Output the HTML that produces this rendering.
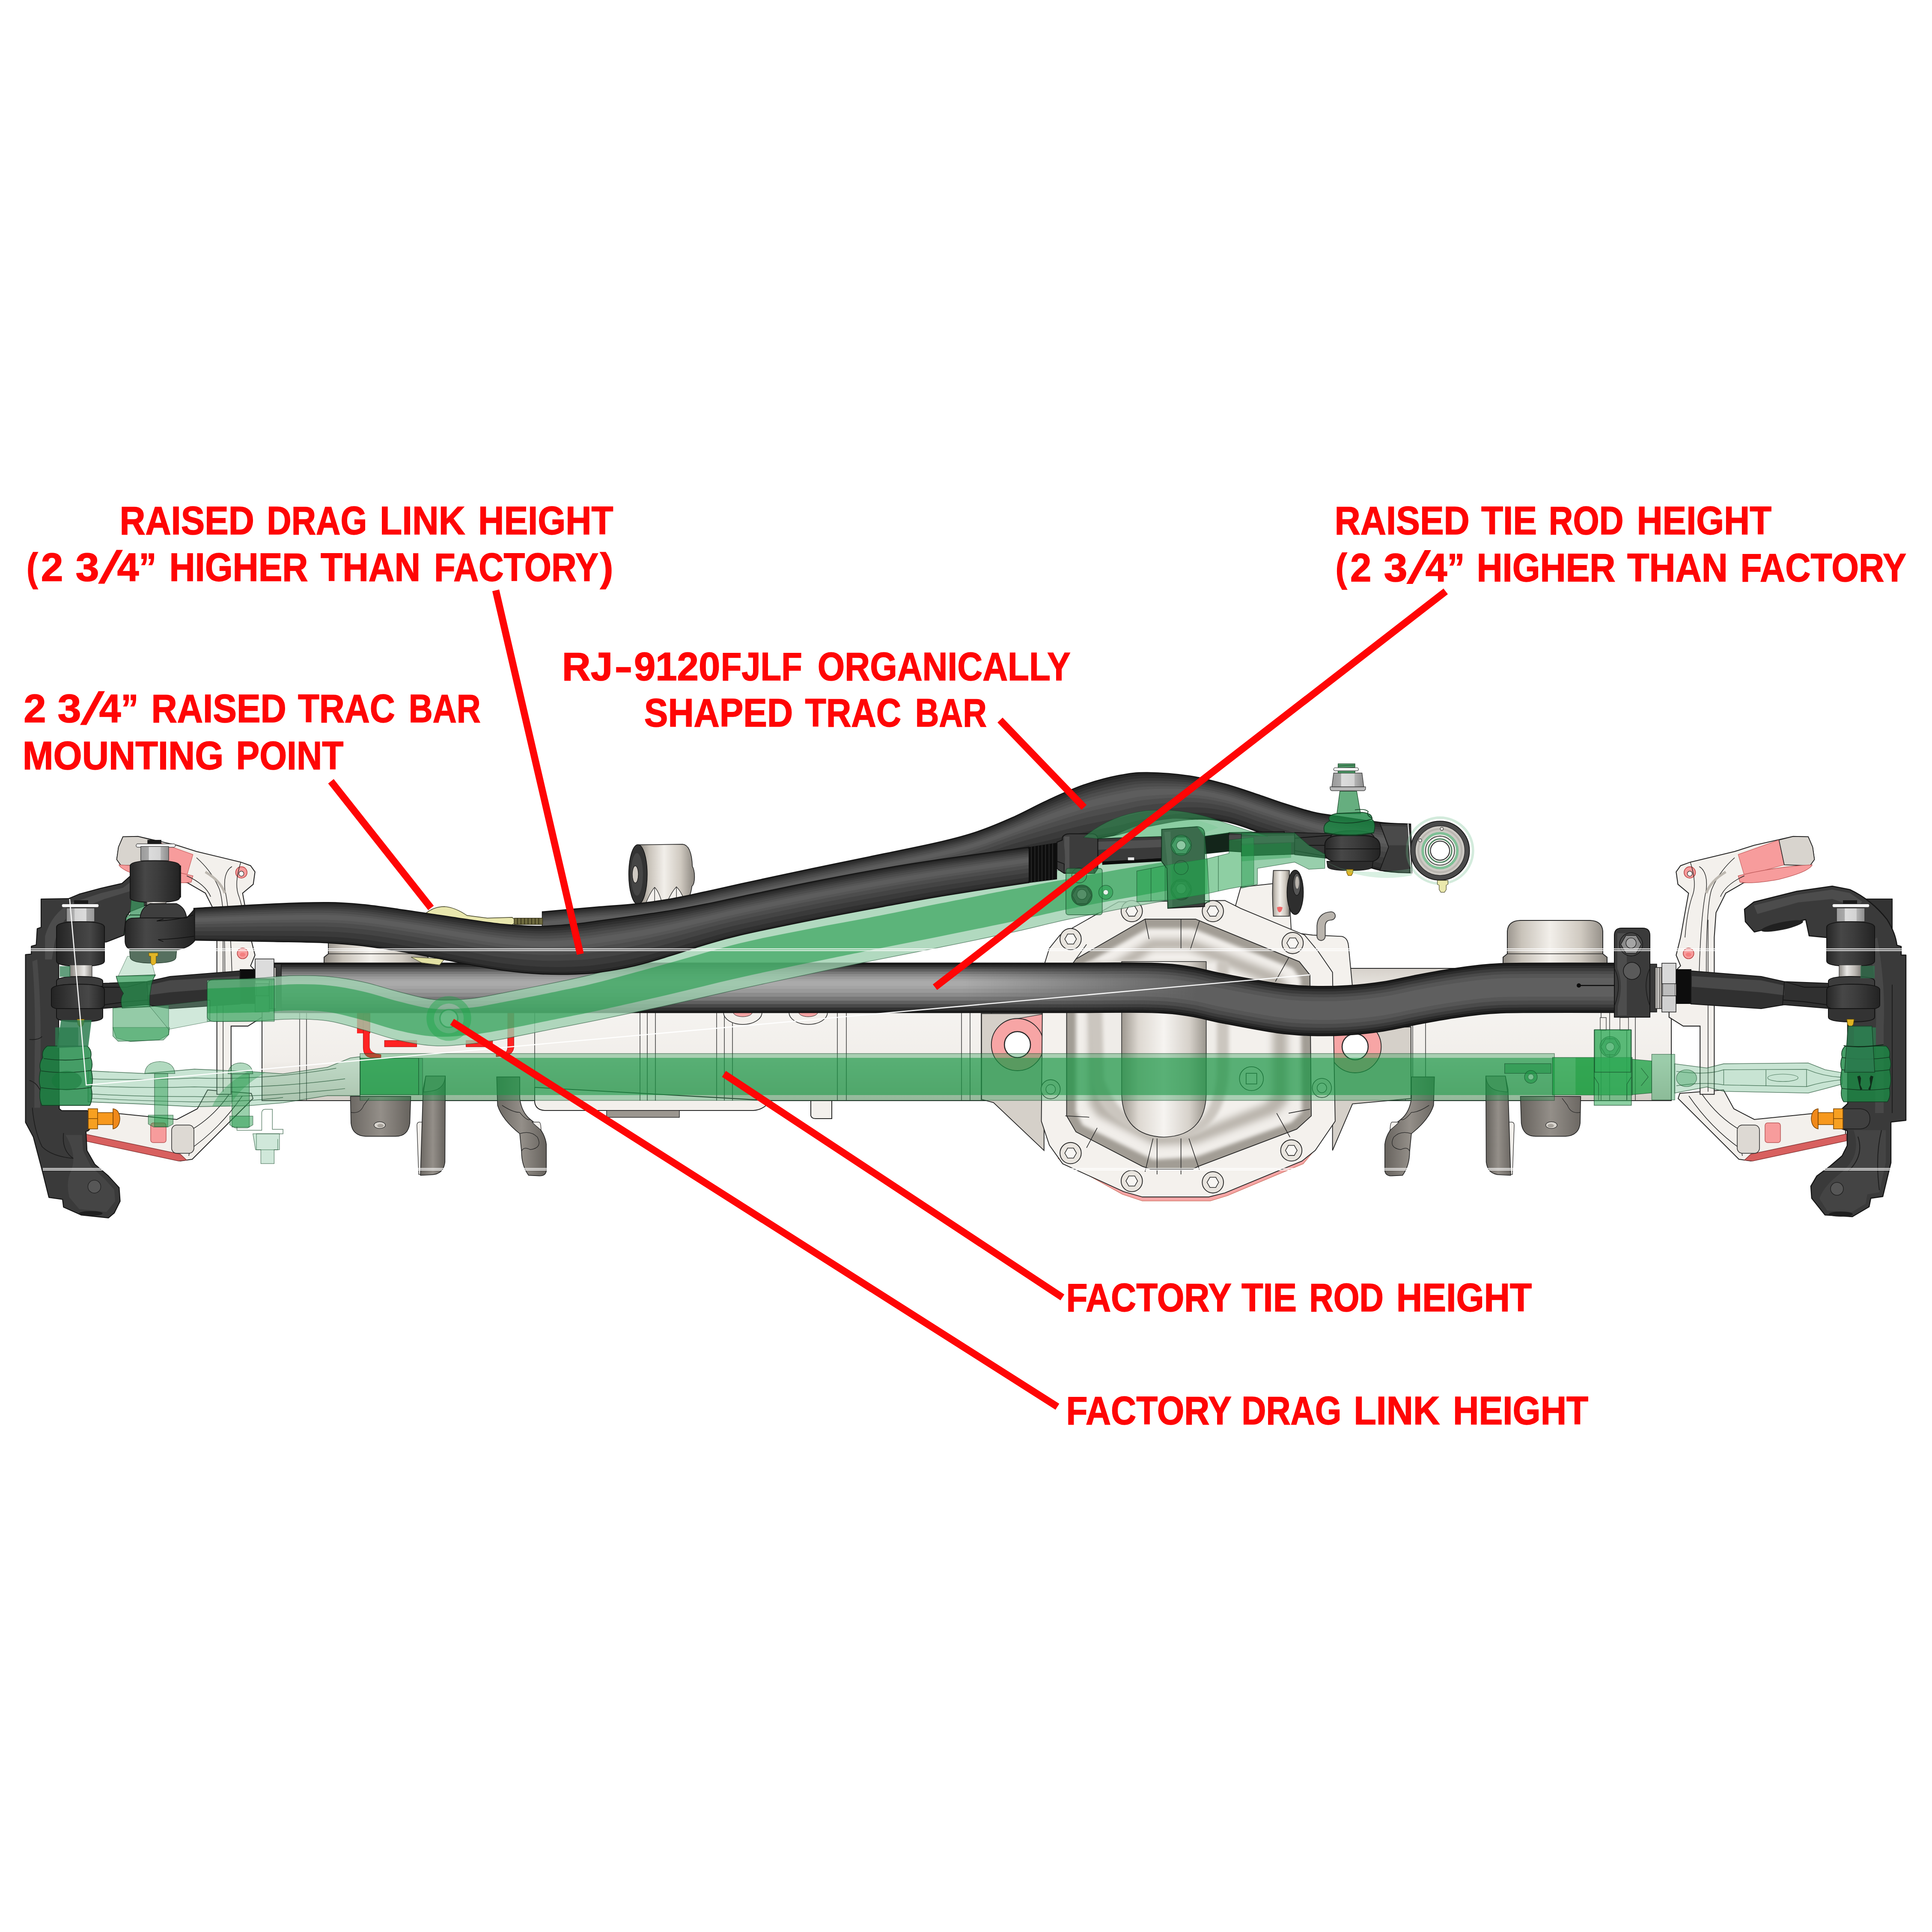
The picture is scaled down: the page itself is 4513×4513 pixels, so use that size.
<!DOCTYPE html>
<html><head><meta charset="utf-8"><title>Steering geometry</title>
<style>
html,body{margin:0;padding:0;background:#fff;}
body{width:4513px;height:4513px;overflow:hidden;font-family:"Liberation Sans",sans-serif;}
svg{display:block;position:absolute;left:0;top:0;}
.lbl text{font-family:"Liberation Sans",sans-serif;font-weight:700;font-size:93px;fill:#ff0505;stroke:#ff0505;stroke-width:1.5px;}
.rl{stroke:#ff0505;stroke-width:16.6;stroke-linecap:butt;fill:none;}
</style></head><body>
<svg width="4513" height="4513" viewBox="0 0 4513 4513">
<rect width="4513" height="4513" fill="#ffffff"/>
<g id="axle">
<defs>
<linearGradient id="cupg" x1="0" x2="1" y1="0" y2="0"><stop offset="0" stop-color="#8e8982"/><stop offset=".18" stop-color="#c9c3ba"/><stop offset=".45" stop-color="#f2efea"/><stop offset=".75" stop-color="#cfc9c0"/><stop offset="1" stop-color="#8a857e"/></linearGradient>
<linearGradient id="tubeg" x1="0" x2="0" y1="0" y2="1"><stop offset="0" stop-color="#d6d1ca"/><stop offset=".25" stop-color="#f6f4f1"/><stop offset=".7" stop-color="#f1eeea"/><stop offset="1" stop-color="#d2cdc6"/></linearGradient>
<linearGradient id="grayg" x1="0" x2="1" y1="0" y2="0"><stop offset="0" stop-color="#6c6863"/><stop offset=".5" stop-color="#948f89"/><stop offset="1" stop-color="#66625d"/></linearGradient>
<radialGradient id="domeg" cx=".5" cy=".45" r=".6"><stop offset="0" stop-color="#f7f5f2"/><stop offset=".6" stop-color="#e4e0da"/><stop offset="1" stop-color="#a9a49c"/></radialGradient>
<linearGradient id="domeh" x1="0" x2="1" y1="0" y2="0"><stop offset="0" stop-color="#9d978f"/><stop offset=".2" stop-color="#ddd8d1"/><stop offset=".5" stop-color="#f6f4f1"/><stop offset=".8" stop-color="#d6d1ca"/><stop offset="1" stop-color="#9a958d"/></linearGradient>
</defs>
<path d="M757,2262 L757,2236 L767,2228 L767,2175 Q769,2151 797,2150 L960,2150 Q988,2151 990,2175 L990,2228 L1000,2236 L1000,2262 Z" fill="url(#cupg)" stroke="#262626" stroke-width="2"/>
<path d="M767,2228 L990,2228" stroke="#262626" stroke-width="1.5" fill="none"/>
<path d="M3511,2262 L3511,2236 L3521,2228 L3521,2175 Q3523,2151 3551,2150 L3714,2150 Q3742,2151 3744,2175 L3744,2228 L3754,2236 L3754,2262 Z" fill="url(#cupg)" stroke="#262626" stroke-width="2"/>
<path d="M3521,2228 L3744,2228" stroke="#262626" stroke-width="1.5" fill="none"/>
<rect x="612" y="2262" width="3292" height="309" fill="url(#tubeg)" stroke="#262626" stroke-width="2"/>
<path d="M1249,2540 L1249,2575 Q1252,2594 1275,2594 L1760,2594 Q1785,2592 1800,2571 Z" fill="#f3f0ec" stroke="#262626" stroke-width="2"/>
<rect x="1417" y="2594" width="170" height="16" fill="#9b968f" stroke="#262626" stroke-width="1.5"/>
<path d="M1894,2571 L1894,2606 Q1896,2613 1905,2613 L1943,2613 L1943,2571 Z" fill="#f3f0ec" stroke="#262626" stroke-width="2"/>
<path d="M700,2365 L700,2571" stroke="#3a3a3a" stroke-width="1.5" fill="none"/>
<path d="M716,2365 L716,2571" stroke="#3a3a3a" stroke-width="1.5" fill="none"/>
<path d="M1249,2365 L1249,2571" stroke="#3a3a3a" stroke-width="1.5" fill="none"/>
<path d="M1495,2365 L1495,2571" stroke="#3a3a3a" stroke-width="1.5" fill="none"/>
<path d="M1512,2365 L1512,2571" stroke="#3a3a3a" stroke-width="1.5" fill="none"/>
<path d="M1531,2365 L1531,2571" stroke="#3a3a3a" stroke-width="1.5" fill="none"/>
<path d="M1674,2365 L1674,2571" stroke="#3a3a3a" stroke-width="1.5" fill="none"/>
<path d="M1692,2365 L1692,2571" stroke="#3a3a3a" stroke-width="1.5" fill="none"/>
<path d="M1711,2365 L1711,2571" stroke="#3a3a3a" stroke-width="1.5" fill="none"/>
<path d="M1956,2365 L1956,2571" stroke="#3a3a3a" stroke-width="1.5" fill="none"/>
<path d="M1977,2365 L1977,2571" stroke="#3a3a3a" stroke-width="1.5" fill="none"/>
<path d="M2246,2365 L2246,2571" stroke="#3a3a3a" stroke-width="1.5" fill="none"/>
<path d="M2266,2365 L2266,2571" stroke="#3a3a3a" stroke-width="1.5" fill="none"/>
<path d="M2292,2365 L2292,2571" stroke="#3a3a3a" stroke-width="1.5" fill="none"/>
<path d="M2316,2365 L2316,2571" stroke="#3a3a3a" stroke-width="1.5" fill="none"/>
<path d="M3283,2365 L3283,2571" stroke="#3a3a3a" stroke-width="1.5" fill="none"/>
<path d="M3300,2365 L3300,2571" stroke="#3a3a3a" stroke-width="1.5" fill="none"/>
<path d="M3330,2365 L3330,2571" stroke="#3a3a3a" stroke-width="1.5" fill="none"/>
<path d="M3740,2365 L3740,2571" stroke="#3a3a3a" stroke-width="1.5" fill="none"/>
<path d="M3760,2365 L3760,2571" stroke="#3a3a3a" stroke-width="1.5" fill="none"/>
<path d="M3800,2365 L3800,2571" stroke="#3a3a3a" stroke-width="1.5" fill="none"/>
<path d="M3820,2365 L3820,2571" stroke="#3a3a3a" stroke-width="1.5" fill="none"/>
<path d="M1690,2365 A45,28 0 0 0 1780,2365 Z" fill="#f3f0ec" stroke="#262626" stroke-width="1.5"/><path d="M1713,2365 A22,10 0 0 0 1757,2365 Z" fill="#f5a3a3" stroke="#262626" stroke-width="1"/>
<path d="M1843,2365 A45,28 0 0 0 1933,2365 Z" fill="#f3f0ec" stroke="#262626" stroke-width="1.5"/><path d="M1866,2365 A22,10 0 0 0 1910,2365 Z" fill="#f5a3a3" stroke="#262626" stroke-width="1"/>
</g>
<g id="diff">
<g transform="translate(2240,2060) scale(0.62112)">
<defs><filter id="bl8" x="-10%" y="-10%" width="120%" height="120%"><feGaussianBlur stdDeviation="14"/></filter>
<filter id="bl4" x="-10%" y="-10%" width="120%" height="120%"><feGaussianBlur stdDeviation="7"/></filter>
<clipPath id="domeclip"><path d="M700,140 L890,140 L1280,300 L1320,350 L1325,880 L1270,930 L900,1070 L880,1080 L720,1080 L690,1070 L440,940 L405,880 L405,340 L440,290 Z"/></clipPath></defs>
<path d="M85,495 L320,495 L320,1010 L130,830 L85,818 Z" fill="#d5d0c9" stroke="#262626" stroke-width="3"/>
<path d="M1405,560 L1700,545 L1700,815 L1480,835 L1405,1010 Z" fill="#d5d0c9" stroke="#262626" stroke-width="3"/>
<path d="M1040,90 L1060,20 L1240,0 L1250,190 L1330,200 L1440,205 Q1462,210 1465,240 L1480,395 L1400,400 L1320,260 Z" fill="#f4f1ed" stroke="#262626" stroke-width="3"/>
<path d="M1362,205 L1362,165 Q1364,130 1400,128" fill="none" stroke="#3a3a3a" stroke-width="34" stroke-linecap="round"/><path d="M1362,205 L1362,165 Q1364,130 1400,128" fill="none" stroke="#b9b4ad" stroke-width="28" stroke-linecap="round"/>
<path d="M215,515 L318,497 L318,640 L300,660 L215,650 Z" fill="#f7a5a5" stroke="#262626" stroke-width="2"/>
<path d="M1408,570 L1500,560 L1500,660 L1408,668 Z" fill="#f7a5a5" stroke="#262626" stroke-width="2"/>
<circle cx="220" cy="612" r="98" fill="#f7a5a5" stroke="#262626" stroke-width="3"/><circle cx="220" cy="612" r="49" fill="#fff" stroke="#262626" stroke-width="4"/>
<circle cx="1490" cy="620" r="98" fill="#f7a5a5" stroke="#262626" stroke-width="3"/><circle cx="1490" cy="620" r="49" fill="#fff" stroke="#262626" stroke-width="4"/>
<path d="M372,1040 L615,1175 L690,1200 L945,1200 L1010,1180 L1295,1060 L1345,1000 L1300,1030 L1000,1150 L690,1165 L420,1050 Z" fill="#f7a5a5" stroke="#c76" stroke-width="2"/>
<path d="M600,75 L1000,70 L1060,100 L1300,200 L1350,260 L1405,340 L1415,900 L1340,1010 L1290,1050 L1000,1170 L940,1185 L690,1185 L620,1165 L390,1060 L340,990 L310,900 L315,330 L340,250 L380,200 Z" fill="#f4f1ed" stroke="#262626" stroke-width="3"/>
<path d="M700,140 L890,140 L1280,300 L1320,350 L1325,880 L1270,930 L900,1070 L880,1080 L720,1080 L690,1070 L440,940 L405,880 L405,340 L440,290 Z" fill="#a29d95" stroke="#262626" stroke-width="3"/>
<g clip-path="url(#domeclip)"><path d="M710,175 L880,175 L1255,325 L1285,365 L1290,865 L1250,905 L890,1035 L730,1045 L465,915 L440,865 L440,355 L465,315 Z" fill="#f1eeea" filter="url(#bl4)"/>
<path d="M720,215 L870,215 L1200,345 L1235,385 L1235,830 L1195,870 L890,985 L740,990 L520,880 L490,835 L490,385 L520,345 Z" fill="#b9b4ac" filter="url(#bl8)"/>
<path d="M730,255 L860,255 L1150,375 L1180,410 L1180,800 L1150,835 L890,940 L750,945 L565,850 L540,810 L540,410 L565,375 Z" fill="#f3f0ec" filter="url(#bl8)"/></g>
<path d="M480,300 L1015,300 L1015,700 Q1010,900 870,960 L750,965 Q560,930 500,760 Z" fill="#cbc6bf" filter="url(#bl4)"/>
<path d="M535,300 L970,300 L970,720 Q960,880 860,930 L760,935 Q600,900 545,740 Z" fill="#efece8" filter="url(#bl4)"/>
<path d="M612,300 L930,300 L930,800 Q925,955 771,960 Q617,955 612,800 Z" fill="url(#domeh)" stroke="#262626" stroke-width="2.5"/>
<circle cx="650" cy="110" r="40" fill="#e9e5df" stroke="#262626" stroke-width="3"/><path d="M628,110 L639,91 L661,91 L672,110 L661,129 L639,129 Z" fill="#f8f6f3" stroke="#262626" stroke-width="2.5"/>
<circle cx="955" cy="110" r="40" fill="#e9e5df" stroke="#262626" stroke-width="3"/><path d="M933,110 L944,91 L966,91 L977,110 L966,129 L944,129 Z" fill="#f8f6f3" stroke="#262626" stroke-width="2.5"/>
<circle cx="420" cy="215" r="40" fill="#e9e5df" stroke="#262626" stroke-width="3"/><path d="M398,215 L409,196 L431,196 L442,215 L431,234 L409,234 Z" fill="#f8f6f3" stroke="#262626" stroke-width="2.5"/>
<circle cx="1255" cy="230" r="40" fill="#e9e5df" stroke="#262626" stroke-width="3"/><path d="M1233,230 L1244,211 L1266,211 L1277,230 L1266,249 L1244,249 Z" fill="#f8f6f3" stroke="#262626" stroke-width="2.5"/>
<circle cx="420" cy="1020" r="40" fill="#e9e5df" stroke="#262626" stroke-width="3"/><path d="M398,1020 L409,1001 L431,1001 L442,1020 L431,1039 L409,1039 Z" fill="#f8f6f3" stroke="#262626" stroke-width="2.5"/>
<circle cx="1250" cy="1010" r="40" fill="#e9e5df" stroke="#262626" stroke-width="3"/><path d="M1228,1010 L1239,991 L1261,991 L1272,1010 L1261,1029 L1239,1029 Z" fill="#f8f6f3" stroke="#262626" stroke-width="2.5"/>
<circle cx="650" cy="1125" r="40" fill="#e9e5df" stroke="#262626" stroke-width="3"/><path d="M628,1125 L639,1106 L661,1106 L672,1125 L661,1144 L639,1144 Z" fill="#f8f6f3" stroke="#262626" stroke-width="2.5"/>
<circle cx="955" cy="1130" r="40" fill="#e9e5df" stroke="#262626" stroke-width="3"/><path d="M933,1130 L944,1111 L966,1111 L977,1130 L966,1149 L944,1149 Z" fill="#f8f6f3" stroke="#262626" stroke-width="2.5"/>
<circle cx="345" cy="780" r="36" fill="#ece8e2" stroke="#262626" stroke-width="2.5"/><circle cx="345" cy="780" r="18" fill="#f8f6f3" stroke="#262626" stroke-width="2"/>
<circle cx="1365" cy="775" r="36" fill="#ece8e2" stroke="#262626" stroke-width="2.5"/><circle cx="1365" cy="775" r="18" fill="#f8f6f3" stroke="#262626" stroke-width="2"/>
<circle cx="1100" cy="740" r="45" fill="#f1eeea" stroke="#262626" stroke-width="2.5"/><rect x="1080" y="720" width="40" height="40" fill="#f8f6f3" stroke="#262626" stroke-width="2.5"/>
<path d="M480,235 L440,290" stroke="#262626" stroke-width="2.5" fill="none"/>
<path d="M700,140 L715,215" stroke="#262626" stroke-width="2.5" fill="none"/>
<path d="M835,140 L835,250" stroke="#262626" stroke-width="2.5" fill="none"/>
<path d="M905,145 L870,255" stroke="#262626" stroke-width="2.5" fill="none"/>
<path d="M1240,285 L1190,375" stroke="#262626" stroke-width="2.5" fill="none"/>
<path d="M1320,855 L1240,870" stroke="#262626" stroke-width="2.5" fill="none"/>
<path d="M1245,960 L1195,870" stroke="#262626" stroke-width="2.5" fill="none"/>
<path d="M905,1085 L865,965" stroke="#262626" stroke-width="2.5" fill="none"/>
<path d="M745,1100 L745,965" stroke="#262626" stroke-width="2.5" fill="none"/>
<path d="M700,1090 L730,965" stroke="#262626" stroke-width="2.5" fill="none"/>
<path d="M480,1000 L520,925" stroke="#262626" stroke-width="2.5" fill="none"/>
<path d="M400,880 L490,885" stroke="#262626" stroke-width="2.5" fill="none"/>
<path d="M835,1100 L835,965" stroke="#262626" stroke-width="2.5" fill="none"/>
</g>
</g>
<g id="innerC">
<path d="M3924,2554 L4026,2546 L4050,2590 L4098,2615 L4236,2601 L4311,2613 L4311,2653 L4090,2712 L4062,2708 L3920,2566 Z" fill="#f3f0ec" stroke="#262626" stroke-width="2"/>
<path d="M4090,2696 L4313,2649 L4313,2665 L4094,2712 L4075,2710 Z" fill="#d8605f" stroke="#8a3a3a" stroke-width="1.5"/>
<path d="M3945,2560 Q4000,2640 4075,2690 M3975,2555 Q4020,2620 4085,2650 M4060,2640 L4070,2700" fill="none" stroke="#262626" stroke-width="1.5"/>
<rect x="4058" y="2628" width="52" height="66" rx="12" fill="#ddd9d3" stroke="#262626" stroke-width="1.5"/>
<rect x="4123" y="2623" width="36" height="46" rx="6" fill="#f79c9c" stroke="#b55" stroke-width="1.5"/>
<g transform="translate(3700,1900) scale(0.41408)">

<path d="M520,330 L545,295 L600,275 L850,215 L960,180 L1180,130 L1265,132 L1290,190 L1300,260 L1275,295 L1100,345 L900,392 L800,450 L745,560 L735,700 L735,1585 L655,1585 L655,1200 L560,1200 L480,1150 L480,1120 L520,885 L545,860 L520,800 L545,700 L570,560 L590,450 L530,400 Z" fill="#f3f0ec" stroke="#262626" stroke-width="5"/>
<path d="M870,232 L1100,150 L1130,290 L905,352 Z" fill="#f79c9c" stroke="#c66" stroke-width="3"/>
<path d="M1100,150 L1180,130 L1265,132 L1290,190 L1300,260 L1275,295 L1130,290 Z" fill="#d8d4ce" stroke="#262626" stroke-width="4"/>
<path d="M870,352 Q1080,300 1288,290 Q1270,330 1100,372 Q950,400 880,388 Z" fill="#f79c9c" stroke="#b55" stroke-width="3"/>
<circle cx="597" cy="333" r="32" fill="#f79c9c" stroke="#b44" stroke-width="4"/><circle cx="597" cy="340" r="14" fill="#fff" stroke="#262626" stroke-width="3"/>
<circle cx="590" cy="790" r="30" fill="#f79c9c" stroke="#b44" stroke-width="4"/><ellipse cx="590" cy="797" rx="16" ry="11" fill="#f47f7f"/>
<path d="M600,275 Q640,400 610,470 Q580,560 570,700 M650,300 Q700,330 690,430 Q660,560 650,900 M850,250 Q760,330 720,430 Q690,520 690,900 M905,352 Q800,400 770,470 M700,600 L700,1570 M660,900 L735,900" fill="none" stroke="#262626" stroke-width="3.5"/>
<path d="M690,450 Q715,380 800,330" fill="none" stroke="#bdb8b0" stroke-width="14"/>

</g>

</g>
<use href="#innerC" transform="translate(4511,0) scale(-1,1)"/>
<g id="brkL"><g transform="translate(800,2350) scale(0.41408)">

<path d="M45,510 L385,510 L380,660 Q370,735 300,735 L130,735 Q55,730 48,660 Z" fill="url(#grayg)" stroke="#262626" stroke-width="4"/>
<path d="M48,600 Q100,610 120,560 L150,520" fill="none" stroke="#262626" stroke-width="3"/>
<ellipse cx="210" cy="672" rx="32" ry="19" fill="#d9d5cf" stroke="#262626" stroke-width="3"/><ellipse cx="214" cy="675" rx="18" ry="10" fill="#a8a39c"/>
<path d="M450,655 L432,655 Q420,658 420,672 L430,950 L447,950 Z" fill="#f3f0ec" stroke="#262626" stroke-width="3"/>
<path d="M470,395 L580,395 L578,880 Q570,950 500,952 L440,955 L455,470 Z" fill="url(#grayg)" stroke="#262626" stroke-width="4"/>
<path d="M470,395 L580,395 Q575,470 500,480 L458,485 Z" fill="#a09b95" stroke="#262626" stroke-width="3"/>
<path d="M870,400 L1000,400 L1000,520 Q1010,600 1060,640 Q1140,700 1150,780 L1150,930 Q1145,960 1110,958 L1050,955 Q1010,900 1010,820 L1000,720 Q900,640 875,560 Z" fill="url(#grayg)" stroke="#262626" stroke-width="4"/>
<path d="M1000,720 Q1060,700 1100,740 Q1130,800 1060,810 Q1020,790 1010,820 M1000,600 Q1040,650 1060,640 M900,560 Q960,600 1000,600" fill="none" stroke="#262626" stroke-width="3"/>
<path d="M1070,655 L1110,655 Q1120,660 1120,700 L1085,670 Z" fill="#f3f0ec" stroke="#262626" stroke-width="3"/>

</g>
</g>
<use href="#brkL" transform="translate(4511,0) scale(-1,1)"/>
<g transform="translate(1400,1850) scale(0.41408)">

<path d="M225,298 L470,295 Q520,300 525,420 Q537,440 537,480 Q537,520 522,532 Q515,600 480,615 L230,632 Z" fill="url(#cupg)" stroke="#262626" stroke-width="4"/>
<ellipse cx="218" cy="465" rx="52" ry="168" fill="#333" stroke="#141414" stroke-width="4"/>
<ellipse cx="212" cy="465" rx="34" ry="120" fill="#454545"/>
<ellipse cx="203" cy="465" rx="17" ry="48" fill="#cfcac3" stroke="#141414" stroke-width="3"/>
<path d="M262,628 Q290,560 312,538 Q335,560 352,620 Z M385,615 Q410,560 435,535 Q460,560 478,605 Z" fill="#f3f0ec" stroke="#262626" stroke-width="3"/>
<path d="M312,538 L312,625 M435,535 L435,610" stroke="#262626" stroke-width="3"/>

</g>

<g transform="translate(2900,1780) scale(0.41408)">

<path d="M180,612 L270,612 L270,870 L180,870 Q170,740 180,612 Z" fill="url(#cupg)" stroke="#262626" stroke-width="4"/>
<ellipse cx="303" cy="735" rx="46" ry="125" fill="#2e2e2e" stroke="#141414" stroke-width="4"/>
<ellipse cx="312" cy="690" rx="22" ry="62" fill="#555" stroke="#141414" stroke-width="3"/>
<ellipse cx="314" cy="680" rx="11" ry="35" fill="#b9b4ad"/>
<path d="M200,820 Q215,812 232,820 Q228,845 215,848 Q203,845 200,820 Z" fill="#f06a6a"/>

</g>

<g transform="translate(600,1950) scale(0.41408)">

<rect x="565" y="990" width="75" height="130" fill="#ff2323"/>
<path d="M600,1010 L635,1010 L635,1200 Q640,1235 700,1240 L700,1257 L640,1257 Q600,1250 600,1200 Z" fill="#ff2323" stroke="#900" stroke-width="2"/>
<rect x="720" y="1160" width="182" height="36" fill="#ff2323" stroke="#900" stroke-width="2"/>
<rect x="1180" y="1160" width="150" height="36" fill="#ff2323" stroke="#900" stroke-width="2"/>
<path d="M1415,1000 L1450,1000 L1450,1200 Q1445,1240 1400,1247 L1350,1252 L1350,1235 L1395,1230 Q1415,1225 1415,1195 Z" fill="#ff2323" stroke="#900" stroke-width="2"/>

</g>

<defs><linearGradient id="cylg" x1="0" x2="1" y1="0" y2="0"><stop offset="0" stop-color="#262626"/><stop offset=".3" stop-color="#474747"/><stop offset=".55" stop-color="#3d3d3d"/><stop offset="1" stop-color="#232323"/></linearGradient>
<linearGradient id="silv" x1="0" x2="1" y1="0" y2="0"><stop offset="0" stop-color="#8f8b86"/><stop offset=".35" stop-color="#e9e7e4"/><stop offset=".7" stop-color="#bdb9b4"/><stop offset="1" stop-color="#85817c"/></linearGradient>
<linearGradient id="nutg" x1="0" x2="1" y1="0" y2="0"><stop offset="0" stop-color="#9a9a9a"/><stop offset=".28" stop-color="#a9a9a9"/><stop offset=".3" stop-color="#dcdcdc"/><stop offset=".7" stop-color="#d3d3d3"/><stop offset=".72" stop-color="#b2b2b2"/><stop offset="1" stop-color="#8d8d8d"/></linearGradient></defs>
<g id="knuckleR">
<rect x="4356" y="2100" width="64" height="112" fill="#333" stroke="#161616" stroke-width="2"/>
<path d="M4075,2124 L4097,2107 L4197,2082 L4280,2070 L4321,2078 Q4372,2102 4408,2148 Q4428,2180 4431,2208 L4441,2211 L4441,2231 L4452,2231 L4452,2617 L4417,2621 L4417,2716 L4398,2795 L4370,2799 L4366,2819 L4327,2842 L4263,2838 L4232,2799 L4230,2771 L4244,2747 L4275,2724 L4303,2700 L4315,2676 L4315,2641 L4303,2637 L4303,2590 L4316,2578 L4316,2300 L4300,2200 L4267,2190 L4226,2186 L4218,2148 L4098,2177 L4077,2153 Z" fill="#3a3a3a" stroke="#161616" stroke-width="2.5" stroke-linejoin="round"/>
<path d="M4097,2115 L4197,2090 L4280,2078 L4321,2086 L4350,2106 L4340,2120 L4280,2100 L4200,2108 L4105,2135 Z" fill="#4c4c4c"/>
<ellipse cx="4163" cy="2163" rx="50" ry="9" transform="rotate(-12 4163 2163)" fill="#202020"/>
<path d="M4385,2190 Q4405,2300 4400,2400 L4400,2600 L4380,2600 L4382,2400 Q4385,2300 4365,2200 Z" fill="#484848"/>
<path d="M4330,2640 Q4350,2700 4300,2740 Q4260,2770 4250,2800 L4268,2828 L4325,2832 L4358,2812 L4362,2790 L4390,2785 L4405,2716 L4405,2640 Z" fill="#444"/>
<path d="M4340,2655 Q4355,2700 4318,2735 M4420,2300 L4420,2600 M4395,2640 Q4380,2700 4390,2780" fill="none" stroke="#1e1e1e" stroke-width="2"/>
<circle cx="4291" cy="2777" r="15" fill="#565656" stroke="#222" stroke-width="1.5"/>
<ellipse cx="4300" cy="2836" rx="28" ry="6" fill="#1f1f1f"/>
<path d="M4303,2590 L4345,2590 Q4368,2592 4368,2613 Q4368,2636 4345,2637 L4303,2637 Z" fill="#404040" stroke="#1a1a1a" stroke-width="1.5"/>
</g>
<g transform="translate(30,2050) scale(0.45549)">
<path d="M145,110 L285,108 L340,85 L450,55 L560,30 L605,-10 L760,-60 L860,-60 L860,100 L700,135 L600,175 L580,205 L570,295 L480,330 L240,335 L235,445 L235,820 L238,1185 L250,1195 L380,1195 Q400,1200 400,1248 Q400,1298 380,1300 L375,1302 L380,1400 L420,1470 L490,1530 L545,1590 L550,1660 L520,1720 L490,1745 L350,1730 L260,1690 L255,1650 L185,1640 L150,1500 L105,1330 L65,1255 L65,395 L95,392 L95,352 L120,345 L125,262 L145,255 Z" fill="#3a3a3a" stroke="#161616" stroke-width="5" stroke-linejoin="round"/>
<path d="M165,300 Q200,180 300,130 L450,80 L565,52 L600,25 L640,25 L600,70 L470,110 L320,170 Q240,220 215,330 L200,420 L165,420 Z" fill="#4c4c4c"/>
<path d="M125,420 Q150,700 140,1000 L140,1180 L110,1180 L112,900 Q118,650 100,430 Z" fill="#484848"/>
<path d="M270,1320 Q330,1420 300,1500 Q270,1560 290,1640 L340,1700 L480,1715 L525,1660 L520,1600 L470,1545 L400,1480 L360,1400 L355,1320 Z" fill="#454545"/>
<path d="M85,830 Q130,835 150,815 M85,1040 Q120,1050 140,1090 M100,1180 Q110,1300 150,1380 Q200,1430 310,1440 M260,1310 Q250,1400 310,1440" fill="none" stroke="#1e1e1e" stroke-width="4"/>
<circle cx="418" cy="1585" r="33" fill="#575757" stroke="#222" stroke-width="3"/>
<ellipse cx="400" cy="1722" rx="60" ry="12" fill="#1f1f1f"/>
</g>

<g id="obolt">
<path d="M4231,2613 Q4232,2592 4247,2590 L4247,2637 Q4232,2634 4231,2613 Z" fill="#f0891a" stroke="#7a4300" stroke-width="1.5"/>
<rect x="4247" y="2599" width="37" height="28" fill="#f7981d" stroke="#7a4300" stroke-width="1.5"/>
<path d="M4283,2590 L4305,2590 L4305,2637 L4283,2637 Z" fill="#f7a021" stroke="#7a4300" stroke-width="1.5"/><path d="M4283,2613 L4305,2613" stroke="#7a4300" stroke-width="1.5"/>
</g>
<use href="#obolt" transform="translate(4511,0) scale(-1,1)"/>
<g id="tierod">
<path d="M640.0,2250.0 C700.0,2250.0 856.7,2250.0 1000.0,2250.0 C1143.3,2250.0 1333.3,2250.0 1500.0,2250.0 C1666.7,2250.0 1833.3,2250.0 2000.0,2250.0 C2166.7,2250.0 2385.0,2250.0 2500.0,2250.0 C2615.0,2250.0 2643.3,2248.6 2690.0,2250.0 C2736.7,2251.4 2752.5,2254.4 2780.0,2258.5 C2807.5,2262.6 2821.2,2268.0 2855.0,2274.5 C2888.8,2281.0 2947.8,2292.6 2983.0,2297.5 C3018.2,2302.4 3038.5,2303.2 3066.0,2304.0 C3093.5,2304.8 3120.5,2304.2 3148.0,2302.5 C3175.5,2300.8 3203.3,2297.8 3231.0,2293.5 C3258.7,2289.2 3286.3,2282.2 3314.0,2277.0 C3341.7,2271.8 3369.3,2266.6 3397.0,2262.5 C3424.7,2258.4 3452.5,2254.6 3480.0,2252.5 C3507.5,2250.4 3513.2,2250.4 3562.0,2250.0 C3610.8,2249.6 3737.8,2250.0 3773.0,2250.0 L3773.0,2365.0 C3737.8,2365.0 3610.8,2364.6 3562.0,2365.0 C3513.2,2365.4 3507.5,2365.4 3480.0,2367.5 C3452.5,2369.6 3424.7,2373.4 3397.0,2377.5 C3369.3,2381.6 3341.7,2386.8 3314.0,2392.0 C3286.3,2397.2 3258.7,2404.2 3231.0,2408.5 C3203.3,2412.8 3175.5,2415.8 3148.0,2417.5 C3120.5,2419.2 3093.5,2419.8 3066.0,2419.0 C3038.5,2418.2 3018.2,2417.4 2983.0,2412.5 C2947.8,2407.6 2888.8,2396.0 2855.0,2389.5 C2821.2,2383.0 2807.5,2377.6 2780.0,2373.5 C2752.5,2369.4 2736.7,2366.4 2690.0,2365.0 C2643.3,2363.6 2615.0,2365.0 2500.0,2365.0 C2385.0,2365.0 2166.7,2365.0 2000.0,2365.0 C1833.3,2365.0 1666.7,2365.0 1500.0,2365.0 C1333.3,2365.0 1143.3,2365.0 1000.0,2365.0 C856.7,2365.0 700.0,2365.0 640.0,2365.0 Z" fill="#1c1c1c" stroke="#141414" stroke-width="2.5"/>
<path d="M640.0,2255.8 C700.0,2255.8 856.7,2255.8 1000.0,2255.8 C1143.3,2255.8 1333.3,2255.8 1500.0,2255.8 C1666.7,2255.8 1833.3,2255.8 2000.0,2255.8 C2166.7,2255.8 2385.0,2255.8 2500.0,2255.8 C2615.0,2255.8 2643.3,2254.3 2690.0,2255.8 C2736.7,2257.2 2752.5,2260.2 2780.0,2264.2 C2807.5,2268.3 2821.2,2273.8 2855.0,2280.2 C2888.8,2286.8 2947.8,2298.3 2983.0,2303.2 C3018.2,2308.2 3038.5,2308.9 3066.0,2309.8 C3093.5,2310.6 3120.5,2310.0 3148.0,2308.2 C3175.5,2306.5 3203.3,2303.5 3231.0,2299.2 C3258.7,2295.0 3286.3,2287.9 3314.0,2282.8 C3341.7,2277.6 3369.3,2272.3 3397.0,2268.2 C3424.7,2264.2 3452.5,2260.3 3480.0,2258.2 C3507.5,2256.2 3513.2,2256.2 3562.0,2255.8 C3610.8,2255.3 3737.8,2255.8 3773.0,2255.8 L3773.0,2359.2 C3737.8,2359.2 3610.8,2358.8 3562.0,2359.2 C3513.2,2359.7 3507.5,2359.7 3480.0,2361.8 C3452.5,2363.8 3424.7,2367.7 3397.0,2371.8 C3369.3,2375.8 3341.7,2381.1 3314.0,2386.2 C3286.3,2391.4 3258.7,2398.5 3231.0,2402.8 C3203.3,2407.0 3175.5,2410.0 3148.0,2411.8 C3120.5,2413.5 3093.5,2414.1 3066.0,2413.2 C3038.5,2412.4 3018.2,2411.7 2983.0,2406.8 C2947.8,2401.8 2888.8,2390.2 2855.0,2383.8 C2821.2,2377.2 2807.5,2371.8 2780.0,2367.8 C2752.5,2363.7 2736.7,2360.7 2690.0,2359.2 C2643.3,2357.8 2615.0,2359.2 2500.0,2359.2 C2385.0,2359.2 2166.7,2359.2 2000.0,2359.2 C1833.3,2359.2 1666.7,2359.2 1500.0,2359.2 C1333.3,2359.2 1143.3,2359.2 1000.0,2359.2 C856.7,2359.2 700.0,2359.2 640.0,2359.2 Z" fill="#2b2b2b"/>
<path d="M640.0,2261.5 C700.0,2261.5 856.7,2261.5 1000.0,2261.5 C1143.3,2261.5 1333.3,2261.5 1500.0,2261.5 C1666.7,2261.5 1833.3,2261.5 2000.0,2261.5 C2166.7,2261.5 2385.0,2261.5 2500.0,2261.5 C2615.0,2261.5 2643.3,2260.1 2690.0,2261.5 C2736.7,2262.9 2752.5,2265.9 2780.0,2270.0 C2807.5,2274.1 2821.2,2279.5 2855.0,2286.0 C2888.8,2292.5 2947.8,2304.1 2983.0,2309.0 C3018.2,2313.9 3038.5,2314.7 3066.0,2315.5 C3093.5,2316.3 3120.5,2315.8 3148.0,2314.0 C3175.5,2312.2 3203.3,2309.2 3231.0,2305.0 C3258.7,2300.8 3286.3,2293.7 3314.0,2288.5 C3341.7,2283.3 3369.3,2278.1 3397.0,2274.0 C3424.7,2269.9 3452.5,2266.1 3480.0,2264.0 C3507.5,2261.9 3513.2,2261.9 3562.0,2261.5 C3610.8,2261.1 3737.8,2261.5 3773.0,2261.5 L3773.0,2353.5 C3737.8,2353.5 3610.8,2353.1 3562.0,2353.5 C3513.2,2353.9 3507.5,2353.9 3480.0,2356.0 C3452.5,2358.1 3424.7,2361.9 3397.0,2366.0 C3369.3,2370.1 3341.7,2375.3 3314.0,2380.5 C3286.3,2385.7 3258.7,2392.8 3231.0,2397.0 C3203.3,2401.2 3175.5,2404.2 3148.0,2406.0 C3120.5,2407.8 3093.5,2408.3 3066.0,2407.5 C3038.5,2406.7 3018.2,2405.9 2983.0,2401.0 C2947.8,2396.1 2888.8,2384.5 2855.0,2378.0 C2821.2,2371.5 2807.5,2366.1 2780.0,2362.0 C2752.5,2357.9 2736.7,2354.9 2690.0,2353.5 C2643.3,2352.1 2615.0,2353.5 2500.0,2353.5 C2385.0,2353.5 2166.7,2353.5 2000.0,2353.5 C1833.3,2353.5 1666.7,2353.5 1500.0,2353.5 C1333.3,2353.5 1143.3,2353.5 1000.0,2353.5 C856.7,2353.5 700.0,2353.5 640.0,2353.5 Z" fill="#3b3b3b"/>
<path d="M640.0,2268.4 C700.0,2268.4 856.7,2268.4 1000.0,2268.4 C1143.3,2268.4 1333.3,2268.4 1500.0,2268.4 C1666.7,2268.4 1833.3,2268.4 2000.0,2268.4 C2166.7,2268.4 2385.0,2268.4 2500.0,2268.4 C2615.0,2268.4 2643.3,2267.0 2690.0,2268.4 C2736.7,2269.8 2752.5,2272.8 2780.0,2276.9 C2807.5,2281.0 2821.2,2286.4 2855.0,2292.9 C2888.8,2299.4 2947.8,2311.0 2983.0,2315.9 C3018.2,2320.8 3038.5,2321.6 3066.0,2322.4 C3093.5,2323.2 3120.5,2322.7 3148.0,2320.9 C3175.5,2319.2 3203.3,2316.2 3231.0,2311.9 C3258.7,2307.7 3286.3,2300.6 3314.0,2295.4 C3341.7,2290.2 3369.3,2285.0 3397.0,2280.9 C3424.7,2276.8 3452.5,2273.0 3480.0,2270.9 C3507.5,2268.8 3513.2,2268.8 3562.0,2268.4 C3610.8,2268.0 3737.8,2268.4 3773.0,2268.4 L3773.0,2346.6 C3737.8,2346.6 3610.8,2346.2 3562.0,2346.6 C3513.2,2347.0 3507.5,2347.0 3480.0,2349.1 C3452.5,2351.2 3424.7,2355.0 3397.0,2359.1 C3369.3,2363.2 3341.7,2368.4 3314.0,2373.6 C3286.3,2378.8 3258.7,2385.8 3231.0,2390.1 C3203.3,2394.3 3175.5,2397.3 3148.0,2399.1 C3120.5,2400.8 3093.5,2401.4 3066.0,2400.6 C3038.5,2399.8 3018.2,2399.0 2983.0,2394.1 C2947.8,2389.2 2888.8,2377.6 2855.0,2371.1 C2821.2,2364.6 2807.5,2359.2 2780.0,2355.1 C2752.5,2351.0 2736.7,2348.0 2690.0,2346.6 C2643.3,2345.2 2615.0,2346.6 2500.0,2346.6 C2385.0,2346.6 2166.7,2346.6 2000.0,2346.6 C1833.3,2346.6 1666.7,2346.6 1500.0,2346.6 C1333.3,2346.6 1143.3,2346.6 1000.0,2346.6 C856.7,2346.6 700.0,2346.6 640.0,2346.6 Z" fill="#4a4a4a"/>
<path d="M640.0,2275.3 C700.0,2275.3 856.7,2275.3 1000.0,2275.3 C1143.3,2275.3 1333.3,2275.3 1500.0,2275.3 C1666.7,2275.3 1833.3,2275.3 2000.0,2275.3 C2166.7,2275.3 2385.0,2275.3 2500.0,2275.3 C2615.0,2275.3 2643.3,2273.9 2690.0,2275.3 C2736.7,2276.7 2752.5,2279.7 2780.0,2283.8 C2807.5,2287.9 2821.2,2293.3 2855.0,2299.8 C2888.8,2306.3 2947.8,2317.9 2983.0,2322.8 C3018.2,2327.7 3038.5,2328.5 3066.0,2329.3 C3093.5,2330.1 3120.5,2329.6 3148.0,2327.8 C3175.5,2326.1 3203.3,2323.1 3231.0,2318.8 C3258.7,2314.6 3286.3,2307.5 3314.0,2302.3 C3341.7,2297.1 3369.3,2291.9 3397.0,2287.8 C3424.7,2283.7 3452.5,2279.9 3480.0,2277.8 C3507.5,2275.7 3513.2,2275.7 3562.0,2275.3 C3610.8,2274.9 3737.8,2275.3 3773.0,2275.3 L3773.0,2337.4 C3737.8,2337.4 3610.8,2337.0 3562.0,2337.4 C3513.2,2337.8 3507.5,2337.8 3480.0,2339.9 C3452.5,2342.0 3424.7,2345.8 3397.0,2349.9 C3369.3,2354.0 3341.7,2359.2 3314.0,2364.4 C3286.3,2369.6 3258.7,2376.7 3231.0,2380.9 C3203.3,2385.2 3175.5,2388.2 3148.0,2389.9 C3120.5,2391.7 3093.5,2392.2 3066.0,2391.4 C3038.5,2390.6 3018.2,2389.8 2983.0,2384.9 C2947.8,2380.0 2888.8,2368.4 2855.0,2361.9 C2821.2,2355.4 2807.5,2350.0 2780.0,2345.9 C2752.5,2341.8 2736.7,2338.8 2690.0,2337.4 C2643.3,2336.0 2615.0,2337.4 2500.0,2337.4 C2385.0,2337.4 2166.7,2337.4 2000.0,2337.4 C1833.3,2337.4 1666.7,2337.4 1500.0,2337.4 C1333.3,2337.4 1143.3,2337.4 1000.0,2337.4 C856.7,2337.4 700.0,2337.4 640.0,2337.4 Z" fill="#565656"/>
<path d="M640.0,2284.5 C700.0,2284.5 856.7,2284.5 1000.0,2284.5 C1143.3,2284.5 1333.3,2284.5 1500.0,2284.5 C1666.7,2284.5 1833.3,2284.5 2000.0,2284.5 C2166.7,2284.5 2385.0,2284.5 2500.0,2284.5 C2615.0,2284.5 2643.3,2283.1 2690.0,2284.5 C2736.7,2285.9 2752.5,2288.9 2780.0,2293.0 C2807.5,2297.1 2821.2,2302.5 2855.0,2309.0 C2888.8,2315.5 2947.8,2327.1 2983.0,2332.0 C3018.2,2336.9 3038.5,2337.7 3066.0,2338.5 C3093.5,2339.3 3120.5,2338.8 3148.0,2337.0 C3175.5,2335.2 3203.3,2332.2 3231.0,2328.0 C3258.7,2323.8 3286.3,2316.7 3314.0,2311.5 C3341.7,2306.3 3369.3,2301.1 3397.0,2297.0 C3424.7,2292.9 3452.5,2289.1 3480.0,2287.0 C3507.5,2284.9 3513.2,2284.9 3562.0,2284.5 C3610.8,2284.1 3737.8,2284.5 3773.0,2284.5 L3773.0,2328.2 C3737.8,2328.2 3610.8,2327.8 3562.0,2328.2 C3513.2,2328.6 3507.5,2328.6 3480.0,2330.7 C3452.5,2332.8 3424.7,2336.6 3397.0,2340.7 C3369.3,2344.8 3341.7,2350.0 3314.0,2355.2 C3286.3,2360.4 3258.7,2367.4 3231.0,2371.7 C3203.3,2375.9 3175.5,2378.9 3148.0,2380.7 C3120.5,2382.4 3093.5,2383.0 3066.0,2382.2 C3038.5,2381.4 3018.2,2380.6 2983.0,2375.7 C2947.8,2370.8 2888.8,2359.2 2855.0,2352.7 C2821.2,2346.2 2807.5,2340.8 2780.0,2336.7 C2752.5,2332.6 2736.7,2329.6 2690.0,2328.2 C2643.3,2326.8 2615.0,2328.2 2500.0,2328.2 C2385.0,2328.2 2166.7,2328.2 2000.0,2328.2 C1833.3,2328.2 1666.7,2328.2 1500.0,2328.2 C1333.3,2328.2 1143.3,2328.2 1000.0,2328.2 C856.7,2328.2 700.0,2328.2 640.0,2328.2 Z" fill="#5f5f5f"/>
<defs><linearGradient id="fadeLg" gradientUnits="userSpaceOnUse" x1="2250" y1="0" x2="2800" y2="0"><stop offset="0" stop-color="#fff"/><stop offset="1" stop-color="#000"/></linearGradient><mask id="fadeL" maskUnits="userSpaceOnUse" x="600" y="2200" width="3300" height="300"><rect x="600" y="2200" width="3300" height="300" fill="url(#fadeLg)"/></mask></defs>
<g mask="url(#fadeL)"><path d="M640.0,2250.0 C700.0,2250.0 856.7,2250.0 1000.0,2250.0 C1143.3,2250.0 1333.3,2250.0 1500.0,2250.0 C1666.7,2250.0 1833.3,2250.0 2000.0,2250.0 C2166.7,2250.0 2385.0,2250.0 2500.0,2250.0 C2615.0,2250.0 2643.3,2248.6 2690.0,2250.0 C2736.7,2251.4 2752.5,2254.4 2780.0,2258.5 C2807.5,2262.6 2821.2,2268.0 2855.0,2274.5 C2888.8,2281.0 2947.8,2292.6 2983.0,2297.5 C3018.2,2302.4 3038.5,2303.2 3066.0,2304.0 C3093.5,2304.8 3120.5,2304.2 3148.0,2302.5 C3175.5,2300.8 3203.3,2297.8 3231.0,2293.5 C3258.7,2289.2 3286.3,2282.2 3314.0,2277.0 C3341.7,2271.8 3369.3,2266.6 3397.0,2262.5 C3424.7,2258.4 3452.5,2254.6 3480.0,2252.5 C3507.5,2250.4 3513.2,2250.4 3562.0,2250.0 C3610.8,2249.6 3737.8,2250.0 3773.0,2250.0 L3773.0,2365.0 C3737.8,2365.0 3610.8,2364.6 3562.0,2365.0 C3513.2,2365.4 3507.5,2365.4 3480.0,2367.5 C3452.5,2369.6 3424.7,2373.4 3397.0,2377.5 C3369.3,2381.6 3341.7,2386.8 3314.0,2392.0 C3286.3,2397.2 3258.7,2404.2 3231.0,2408.5 C3203.3,2412.8 3175.5,2415.8 3148.0,2417.5 C3120.5,2419.2 3093.5,2419.8 3066.0,2419.0 C3038.5,2418.2 3018.2,2417.4 2983.0,2412.5 C2947.8,2407.6 2888.8,2396.0 2855.0,2389.5 C2821.2,2383.0 2807.5,2377.6 2780.0,2373.5 C2752.5,2369.4 2736.7,2366.4 2690.0,2365.0 C2643.3,2363.6 2615.0,2365.0 2500.0,2365.0 C2385.0,2365.0 2166.7,2365.0 2000.0,2365.0 C1833.3,2365.0 1666.7,2365.0 1500.0,2365.0 C1333.3,2365.0 1143.3,2365.0 1000.0,2365.0 C856.7,2365.0 700.0,2365.0 640.0,2365.0 Z" fill="#1c1c1c" stroke="#141414" stroke-width="2.5"/>
<path d="M640.0,2254.6 C700.0,2254.6 856.7,2254.6 1000.0,2254.6 C1143.3,2254.6 1333.3,2254.6 1500.0,2254.6 C1666.7,2254.6 1833.3,2254.6 2000.0,2254.6 C2166.7,2254.6 2385.0,2254.6 2500.0,2254.6 C2615.0,2254.6 2643.3,2253.2 2690.0,2254.6 C2736.7,2256.0 2752.5,2259.0 2780.0,2263.1 C2807.5,2267.2 2821.2,2272.6 2855.0,2279.1 C2888.8,2285.6 2947.8,2297.2 2983.0,2302.1 C3018.2,2307.0 3038.5,2307.8 3066.0,2308.6 C3093.5,2309.4 3120.5,2308.8 3148.0,2307.1 C3175.5,2305.3 3203.3,2302.3 3231.0,2298.1 C3258.7,2293.8 3286.3,2286.8 3314.0,2281.6 C3341.7,2276.4 3369.3,2271.2 3397.0,2267.1 C3424.7,2263.0 3452.5,2259.2 3480.0,2257.1 C3507.5,2255.0 3513.2,2255.0 3562.0,2254.6 C3610.8,2254.2 3737.8,2254.6 3773.0,2254.6 L3773.0,2360.4 C3737.8,2360.4 3610.8,2360.0 3562.0,2360.4 C3513.2,2360.8 3507.5,2360.8 3480.0,2362.9 C3452.5,2365.0 3424.7,2368.8 3397.0,2372.9 C3369.3,2377.0 3341.7,2382.2 3314.0,2387.4 C3286.3,2392.6 3258.7,2399.7 3231.0,2403.9 C3203.3,2408.2 3175.5,2411.2 3148.0,2412.9 C3120.5,2414.7 3093.5,2415.2 3066.0,2414.4 C3038.5,2413.6 3018.2,2412.8 2983.0,2407.9 C2947.8,2403.0 2888.8,2391.4 2855.0,2384.9 C2821.2,2378.4 2807.5,2373.0 2780.0,2368.9 C2752.5,2364.8 2736.7,2361.8 2690.0,2360.4 C2643.3,2359.0 2615.0,2360.4 2500.0,2360.4 C2385.0,2360.4 2166.7,2360.4 2000.0,2360.4 C1833.3,2360.4 1666.7,2360.4 1500.0,2360.4 C1333.3,2360.4 1143.3,2360.4 1000.0,2360.4 C856.7,2360.4 700.0,2360.4 640.0,2360.4 Z" fill="#303030"/>
<path d="M640.0,2259.2 C700.0,2259.2 856.7,2259.2 1000.0,2259.2 C1143.3,2259.2 1333.3,2259.2 1500.0,2259.2 C1666.7,2259.2 1833.3,2259.2 2000.0,2259.2 C2166.7,2259.2 2385.0,2259.2 2500.0,2259.2 C2615.0,2259.2 2643.3,2257.8 2690.0,2259.2 C2736.7,2260.6 2752.5,2263.6 2780.0,2267.7 C2807.5,2271.8 2821.2,2277.2 2855.0,2283.7 C2888.8,2290.2 2947.8,2301.8 2983.0,2306.7 C3018.2,2311.6 3038.5,2312.4 3066.0,2313.2 C3093.5,2314.0 3120.5,2313.4 3148.0,2311.7 C3175.5,2309.9 3203.3,2306.9 3231.0,2302.7 C3258.7,2298.4 3286.3,2291.4 3314.0,2286.2 C3341.7,2281.0 3369.3,2275.8 3397.0,2271.7 C3424.7,2267.6 3452.5,2263.8 3480.0,2261.7 C3507.5,2259.6 3513.2,2259.6 3562.0,2259.2 C3610.8,2258.8 3737.8,2259.2 3773.0,2259.2 L3773.0,2353.5 C3737.8,2353.5 3610.8,2353.1 3562.0,2353.5 C3513.2,2353.9 3507.5,2353.9 3480.0,2356.0 C3452.5,2358.1 3424.7,2361.9 3397.0,2366.0 C3369.3,2370.1 3341.7,2375.3 3314.0,2380.5 C3286.3,2385.7 3258.7,2392.8 3231.0,2397.0 C3203.3,2401.2 3175.5,2404.2 3148.0,2406.0 C3120.5,2407.8 3093.5,2408.3 3066.0,2407.5 C3038.5,2406.7 3018.2,2405.9 2983.0,2401.0 C2947.8,2396.1 2888.8,2384.5 2855.0,2378.0 C2821.2,2371.5 2807.5,2366.1 2780.0,2362.0 C2752.5,2357.9 2736.7,2354.9 2690.0,2353.5 C2643.3,2352.1 2615.0,2353.5 2500.0,2353.5 C2385.0,2353.5 2166.7,2353.5 2000.0,2353.5 C1833.3,2353.5 1666.7,2353.5 1500.0,2353.5 C1333.3,2353.5 1143.3,2353.5 1000.0,2353.5 C856.7,2353.5 700.0,2353.5 640.0,2353.5 Z" fill="#484848"/>
<path d="M640.0,2263.8 C700.0,2263.8 856.7,2263.8 1000.0,2263.8 C1143.3,2263.8 1333.3,2263.8 1500.0,2263.8 C1666.7,2263.8 1833.3,2263.8 2000.0,2263.8 C2166.7,2263.8 2385.0,2263.8 2500.0,2263.8 C2615.0,2263.8 2643.3,2262.4 2690.0,2263.8 C2736.7,2265.2 2752.5,2268.2 2780.0,2272.3 C2807.5,2276.4 2821.2,2281.8 2855.0,2288.3 C2888.8,2294.8 2947.8,2306.4 2983.0,2311.3 C3018.2,2316.2 3038.5,2317.0 3066.0,2317.8 C3093.5,2318.6 3120.5,2318.1 3148.0,2316.3 C3175.5,2314.6 3203.3,2311.6 3231.0,2307.3 C3258.7,2303.1 3286.3,2296.0 3314.0,2290.8 C3341.7,2285.6 3369.3,2280.4 3397.0,2276.3 C3424.7,2272.2 3452.5,2268.4 3480.0,2266.3 C3507.5,2264.2 3513.2,2264.2 3562.0,2263.8 C3610.8,2263.4 3737.8,2263.8 3773.0,2263.8 L3773.0,2345.4 C3737.8,2345.4 3610.8,2345.0 3562.0,2345.4 C3513.2,2345.9 3507.5,2345.9 3480.0,2347.9 C3452.5,2350.0 3424.7,2353.9 3397.0,2357.9 C3369.3,2362.0 3341.7,2367.3 3314.0,2372.4 C3286.3,2377.6 3258.7,2384.7 3231.0,2388.9 C3203.3,2393.2 3175.5,2396.2 3148.0,2397.9 C3120.5,2399.7 3093.5,2400.3 3066.0,2399.4 C3038.5,2398.6 3018.2,2397.9 2983.0,2392.9 C2947.8,2388.0 2888.8,2376.4 2855.0,2369.9 C2821.2,2363.4 2807.5,2358.0 2780.0,2353.9 C2752.5,2349.9 2736.7,2346.9 2690.0,2345.4 C2643.3,2344.0 2615.0,2345.4 2500.0,2345.4 C2385.0,2345.4 2166.7,2345.4 2000.0,2345.4 C1833.3,2345.4 1666.7,2345.4 1500.0,2345.4 C1333.3,2345.4 1143.3,2345.4 1000.0,2345.4 C856.7,2345.4 700.0,2345.4 640.0,2345.4 Z" fill="#606060"/>
<path d="M640.0,2269.6 C700.0,2269.6 856.7,2269.6 1000.0,2269.6 C1143.3,2269.6 1333.3,2269.6 1500.0,2269.6 C1666.7,2269.6 1833.3,2269.6 2000.0,2269.6 C2166.7,2269.6 2385.0,2269.6 2500.0,2269.6 C2615.0,2269.6 2643.3,2268.1 2690.0,2269.6 C2736.7,2271.0 2752.5,2274.0 2780.0,2278.1 C2807.5,2282.1 2821.2,2287.6 2855.0,2294.1 C2888.8,2300.6 2947.8,2312.1 2983.0,2317.1 C3018.2,2322.0 3038.5,2322.7 3066.0,2323.6 C3093.5,2324.4 3120.5,2323.8 3148.0,2322.1 C3175.5,2320.3 3203.3,2317.3 3231.0,2313.1 C3258.7,2308.8 3286.3,2301.7 3314.0,2296.6 C3341.7,2291.4 3369.3,2286.1 3397.0,2282.1 C3424.7,2278.0 3452.5,2274.1 3480.0,2272.1 C3507.5,2270.0 3513.2,2270.0 3562.0,2269.6 C3610.8,2269.1 3737.8,2269.6 3773.0,2269.6 L3773.0,2337.4 C3737.8,2337.4 3610.8,2337.0 3562.0,2337.4 C3513.2,2337.8 3507.5,2337.8 3480.0,2339.9 C3452.5,2342.0 3424.7,2345.8 3397.0,2349.9 C3369.3,2354.0 3341.7,2359.2 3314.0,2364.4 C3286.3,2369.6 3258.7,2376.7 3231.0,2380.9 C3203.3,2385.2 3175.5,2388.2 3148.0,2389.9 C3120.5,2391.7 3093.5,2392.2 3066.0,2391.4 C3038.5,2390.6 3018.2,2389.8 2983.0,2384.9 C2947.8,2380.0 2888.8,2368.4 2855.0,2361.9 C2821.2,2355.4 2807.5,2350.0 2780.0,2345.9 C2752.5,2341.8 2736.7,2338.8 2690.0,2337.4 C2643.3,2336.0 2615.0,2337.4 2500.0,2337.4 C2385.0,2337.4 2166.7,2337.4 2000.0,2337.4 C1833.3,2337.4 1666.7,2337.4 1500.0,2337.4 C1333.3,2337.4 1143.3,2337.4 1000.0,2337.4 C856.7,2337.4 700.0,2337.4 640.0,2337.4 Z" fill="#787878"/>
<path d="M640.0,2275.3 C700.0,2275.3 856.7,2275.3 1000.0,2275.3 C1143.3,2275.3 1333.3,2275.3 1500.0,2275.3 C1666.7,2275.3 1833.3,2275.3 2000.0,2275.3 C2166.7,2275.3 2385.0,2275.3 2500.0,2275.3 C2615.0,2275.3 2643.3,2273.9 2690.0,2275.3 C2736.7,2276.7 2752.5,2279.7 2780.0,2283.8 C2807.5,2287.9 2821.2,2293.3 2855.0,2299.8 C2888.8,2306.3 2947.8,2317.9 2983.0,2322.8 C3018.2,2327.7 3038.5,2328.5 3066.0,2329.3 C3093.5,2330.1 3120.5,2329.6 3148.0,2327.8 C3175.5,2326.1 3203.3,2323.1 3231.0,2318.8 C3258.7,2314.6 3286.3,2307.5 3314.0,2302.3 C3341.7,2297.1 3369.3,2291.9 3397.0,2287.8 C3424.7,2283.7 3452.5,2279.9 3480.0,2277.8 C3507.5,2275.7 3513.2,2275.7 3562.0,2275.3 C3610.8,2274.9 3737.8,2275.3 3773.0,2275.3 L3773.0,2328.2 C3737.8,2328.2 3610.8,2327.8 3562.0,2328.2 C3513.2,2328.6 3507.5,2328.6 3480.0,2330.7 C3452.5,2332.8 3424.7,2336.6 3397.0,2340.7 C3369.3,2344.8 3341.7,2350.0 3314.0,2355.2 C3286.3,2360.4 3258.7,2367.4 3231.0,2371.7 C3203.3,2375.9 3175.5,2378.9 3148.0,2380.7 C3120.5,2382.4 3093.5,2383.0 3066.0,2382.2 C3038.5,2381.4 3018.2,2380.6 2983.0,2375.7 C2947.8,2370.8 2888.8,2359.2 2855.0,2352.7 C2821.2,2346.2 2807.5,2340.8 2780.0,2336.7 C2752.5,2332.6 2736.7,2329.6 2690.0,2328.2 C2643.3,2326.8 2615.0,2328.2 2500.0,2328.2 C2385.0,2328.2 2166.7,2328.2 2000.0,2328.2 C1833.3,2328.2 1666.7,2328.2 1500.0,2328.2 C1333.3,2328.2 1143.3,2328.2 1000.0,2328.2 C856.7,2328.2 700.0,2328.2 640.0,2328.2 Z" fill="#8c8c8c"/>
<path d="M640.0,2281.1 C700.0,2281.1 856.7,2281.1 1000.0,2281.1 C1143.3,2281.1 1333.3,2281.1 1500.0,2281.1 C1666.7,2281.1 1833.3,2281.1 2000.0,2281.1 C2166.7,2281.1 2385.0,2281.1 2500.0,2281.1 C2615.0,2281.1 2643.3,2279.6 2690.0,2281.1 C2736.7,2282.5 2752.5,2285.5 2780.0,2289.6 C2807.5,2293.6 2821.2,2299.1 2855.0,2305.6 C2888.8,2312.1 2947.8,2323.6 2983.0,2328.6 C3018.2,2333.5 3038.5,2334.2 3066.0,2335.1 C3093.5,2335.9 3120.5,2335.3 3148.0,2333.6 C3175.5,2331.8 3203.3,2328.8 3231.0,2324.6 C3258.7,2320.3 3286.3,2313.2 3314.0,2308.1 C3341.7,2302.9 3369.3,2297.6 3397.0,2293.6 C3424.7,2289.5 3452.5,2285.6 3480.0,2283.6 C3507.5,2281.5 3513.2,2281.5 3562.0,2281.1 C3610.8,2280.6 3737.8,2281.1 3773.0,2281.1 L3773.0,2319.0 C3737.8,2319.0 3610.8,2318.6 3562.0,2319.0 C3513.2,2319.4 3507.5,2319.4 3480.0,2321.5 C3452.5,2323.6 3424.7,2327.4 3397.0,2331.5 C3369.3,2335.6 3341.7,2340.8 3314.0,2346.0 C3286.3,2351.2 3258.7,2358.2 3231.0,2362.5 C3203.3,2366.8 3175.5,2369.8 3148.0,2371.5 C3120.5,2373.2 3093.5,2373.8 3066.0,2373.0 C3038.5,2372.2 3018.2,2371.4 2983.0,2366.5 C2947.8,2361.6 2888.8,2350.0 2855.0,2343.5 C2821.2,2337.0 2807.5,2331.6 2780.0,2327.5 C2752.5,2323.4 2736.7,2320.4 2690.0,2319.0 C2643.3,2317.6 2615.0,2319.0 2500.0,2319.0 C2385.0,2319.0 2166.7,2319.0 2000.0,2319.0 C1833.3,2319.0 1666.7,2319.0 1500.0,2319.0 C1333.3,2319.0 1143.3,2319.0 1000.0,2319.0 C856.7,2319.0 700.0,2319.0 640.0,2319.0 Z" fill="#9a9a9a"/>
<path d="M640.0,2286.8 C700.0,2286.8 856.7,2286.8 1000.0,2286.8 C1143.3,2286.8 1333.3,2286.8 1500.0,2286.8 C1666.7,2286.8 1833.3,2286.8 2000.0,2286.8 C2166.7,2286.8 2385.0,2286.8 2500.0,2286.8 C2615.0,2286.8 2643.3,2285.4 2690.0,2286.8 C2736.7,2288.2 2752.5,2291.2 2780.0,2295.3 C2807.5,2299.4 2821.2,2304.8 2855.0,2311.3 C2888.8,2317.8 2947.8,2329.4 2983.0,2334.3 C3018.2,2339.2 3038.5,2340.0 3066.0,2340.8 C3093.5,2341.6 3120.5,2341.1 3148.0,2339.3 C3175.5,2337.6 3203.3,2334.6 3231.0,2330.3 C3258.7,2326.1 3286.3,2319.0 3314.0,2313.8 C3341.7,2308.6 3369.3,2303.4 3397.0,2299.3 C3424.7,2295.2 3452.5,2291.4 3480.0,2289.3 C3507.5,2287.2 3513.2,2287.2 3562.0,2286.8 C3610.8,2286.4 3737.8,2286.8 3773.0,2286.8 L3773.0,2309.8 C3737.8,2309.8 3610.8,2309.4 3562.0,2309.8 C3513.2,2310.2 3507.5,2310.2 3480.0,2312.3 C3452.5,2314.4 3424.7,2318.2 3397.0,2322.3 C3369.3,2326.4 3341.7,2331.6 3314.0,2336.8 C3286.3,2342.0 3258.7,2349.1 3231.0,2353.3 C3203.3,2357.6 3175.5,2360.6 3148.0,2362.3 C3120.5,2364.1 3093.5,2364.6 3066.0,2363.8 C3038.5,2363.0 3018.2,2362.2 2983.0,2357.3 C2947.8,2352.4 2888.8,2340.8 2855.0,2334.3 C2821.2,2327.8 2807.5,2322.4 2780.0,2318.3 C2752.5,2314.2 2736.7,2311.2 2690.0,2309.8 C2643.3,2308.4 2615.0,2309.8 2500.0,2309.8 C2385.0,2309.8 2166.7,2309.8 2000.0,2309.8 C1833.3,2309.8 1666.7,2309.8 1500.0,2309.8 C1333.3,2309.8 1143.3,2309.8 1000.0,2309.8 C856.7,2309.8 700.0,2309.8 640.0,2309.8 Z" fill="#a4a4a4"/>
<path d="M640.0,2291.4 C700.0,2291.4 856.7,2291.4 1000.0,2291.4 C1143.3,2291.4 1333.3,2291.4 1500.0,2291.4 C1666.7,2291.4 1833.3,2291.4 2000.0,2291.4 C2166.7,2291.4 2385.0,2291.4 2500.0,2291.4 C2615.0,2291.4 2643.3,2290.0 2690.0,2291.4 C2736.7,2292.8 2752.5,2295.8 2780.0,2299.9 C2807.5,2304.0 2821.2,2309.4 2855.0,2315.9 C2888.8,2322.4 2947.8,2334.0 2983.0,2338.9 C3018.2,2343.8 3038.5,2344.6 3066.0,2345.4 C3093.5,2346.2 3120.5,2345.7 3148.0,2343.9 C3175.5,2342.2 3203.3,2339.2 3231.0,2334.9 C3258.7,2330.7 3286.3,2323.6 3314.0,2318.4 C3341.7,2313.2 3369.3,2308.0 3397.0,2303.9 C3424.7,2299.8 3452.5,2296.0 3480.0,2293.9 C3507.5,2291.8 3513.2,2291.8 3562.0,2291.4 C3610.8,2291.0 3737.8,2291.4 3773.0,2291.4 L3773.0,2302.9 C3737.8,2302.9 3610.8,2302.5 3562.0,2302.9 C3513.2,2303.3 3507.5,2303.3 3480.0,2305.4 C3452.5,2307.5 3424.7,2311.3 3397.0,2315.4 C3369.3,2319.5 3341.7,2324.7 3314.0,2329.9 C3286.3,2335.1 3258.7,2342.2 3231.0,2346.4 C3203.3,2350.7 3175.5,2353.7 3148.0,2355.4 C3120.5,2357.2 3093.5,2357.7 3066.0,2356.9 C3038.5,2356.1 3018.2,2355.3 2983.0,2350.4 C2947.8,2345.5 2888.8,2333.9 2855.0,2327.4 C2821.2,2320.9 2807.5,2315.5 2780.0,2311.4 C2752.5,2307.3 2736.7,2304.3 2690.0,2302.9 C2643.3,2301.5 2615.0,2302.9 2500.0,2302.9 C2385.0,2302.9 2166.7,2302.9 2000.0,2302.9 C1833.3,2302.9 1666.7,2302.9 1500.0,2302.9 C1333.3,2302.9 1143.3,2302.9 1000.0,2302.9 C856.7,2302.9 700.0,2302.9 640.0,2302.9 Z" fill="#aaaaaa"/></g>
</g>
<g id="treR">
<rect x="3854" y="2252" width="16" height="112" fill="#3a3a3a" stroke="#161616" stroke-width="1.5"/>
<rect x="3866" y="2260" width="16" height="96" fill="url(#silv)" stroke="#222" stroke-width="1.5"/><path d="M3871,2260 L3871,2356 M3876,2260 L3876,2356" stroke="#333" stroke-width="1.2"/>
<rect x="3882" y="2250" width="33" height="48" fill="#d9d9d9" stroke="#222" stroke-width="1.5"/><rect x="3882" y="2326" width="33" height="38" fill="#d0d0d0" stroke="#222" stroke-width="1.5"/><rect x="3884" y="2298" width="29" height="28" fill="#bdbdbd" stroke="#222" stroke-width="1"/>
<rect x="3915" y="2264" width="36" height="81" fill="#0d0d0d"/>
<path d="M3950,2268 L4114,2281 L4168,2293 L4271,2297 L4276,2356 L4168,2347 L4114,2356 L3950,2345 Z" fill="#303030" stroke="#161616" stroke-width="2"/>
<path d="M3952,2280 L4114,2290 L4168,2302 L4168,2325 L4114,2318 L3952,2305 Z" fill="#484848"/>
<path d="M4168,2293 L4164,2347 M4168,2293 L4215,2306 L4271,2306 M4166,2336 L4215,2340 L4274,2348" fill="none" stroke="#151515" stroke-width="1.8"/>
</g>
<g id="treSock">
<rect x="4305" y="2103" width="33" height="18" fill="#1a1a1a"/>
<rect x="4280" y="2111.5" width="87" height="8" rx="4" fill="#f4f4f4" stroke="#333" stroke-width="1.2"/>
<path d="M4290,2121 L4356,2121 L4356,2153 L4290,2153 Z" fill="url(#nutg)" stroke="#333" stroke-width="1.5"/>
<path d="M4267,2166 Q4267,2153 4323,2153 Q4379,2153 4379,2166 L4379,2245 Q4379,2257 4323,2257 Q4267,2257 4267,2245 Z" fill="url(#cylg)" stroke="#141414" stroke-width="2"/>
<rect x="4296" y="2254" width="52" height="29" fill="url(#silv)" stroke="#333" stroke-width="1.2"/>
<path d="M4271,2292 Q4271,2281 4325,2281 Q4379,2281 4379,2292 L4379,2304 L4271,2304 Z" fill="#3c3c3c" stroke="#141414" stroke-width="2"/>
<path d="M4267,2312 Q4267,2299 4329,2299 Q4391,2299 4391,2312 L4391,2348 Q4391,2360 4329,2360 Q4267,2360 4267,2348 Z" fill="url(#cylg)" stroke="#141414" stroke-width="2"/>
<path d="M4271,2356 L4379,2356 L4379,2376 Q4379,2387 4325,2387 Q4271,2387 4271,2376 Z" fill="#333" stroke="#141414" stroke-width="2"/>
<path d="M4314,2381 L4331,2381 L4329,2393 L4325,2398 L4320,2398 L4316,2393 Z" fill="#e0b323" stroke="#6b5200" stroke-width="1.2"/>
</g>
<use href="#treR" transform="translate(4511,0) scale(-1,1)"/>
<use href="#treSock" transform="translate(4511,0) scale(-1,1)"/>
<rect x="596" y="2240" width="44" height="50" fill="#dcdcdc" stroke="#222" stroke-width="1.5"/>
<path d="M3771,2185 Q3771,2168 3788,2168 L3837,2168 Q3854,2168 3854,2185 L3854,2376 L3771,2376 Z" fill="#3b3b3b" stroke="#141414" stroke-width="2"/>
<path d="M3771,2262 Q3790,2300 3771,2350 M3854,2262 Q3836,2300 3854,2350" stroke="#1a1a1a" stroke-width="1.5" fill="none"/><path d="M3778,2180 L3778,2262 Q3794,2300 3779,2350 L3779,2372 L3800,2372 L3800,2180 Z" fill="#4d4d4d"/>
<circle cx="3810" cy="2206" r="27" fill="#4a4a4a" stroke="#161616" stroke-width="1.5"/><path d="M3786,2206 L3798,2185 L3822,2185 L3834,2206 L3822,2227 L3798,2227 Z" fill="#8a8a8a" stroke="#161616" stroke-width="1.5"/><circle cx="3810" cy="2203" r="12" fill="#a5a5a5" stroke="#161616" stroke-width="1.2"/>
<circle cx="3812" cy="2268" r="20" fill="#5a5a5a" stroke="#161616" stroke-width="1.5"/>
<path d="M3690,2302 L3771,2302" stroke="#0c0c0c" stroke-width="2.5"/><circle cx="3688" cy="2302" r="5" fill="#0c0c0c"/>
<rect x="3738" y="2377" width="14" height="30" fill="#f3f0ec" stroke="#262626" stroke-width="1.2"/><rect x="3784" y="2377" width="20" height="30" fill="#f3f0ec" stroke="#262626" stroke-width="1.2"/>
<g id="green">
<rect x="841" y="2461" width="2790" height="109.5" fill="rgba(38,150,78,0.36)" stroke="rgba(20,70,40,0.55)" stroke-width="1.5"/>
<rect x="841" y="2471" width="2790" height="87" fill="rgba(22,150,66,0.55)"/>
<path d="M484.0,2290.0 C503.3,2289.2 566.8,2286.8 600.0,2285.0 C633.2,2283.2 655.3,2279.7 683.0,2279.0 C710.7,2278.3 738.5,2278.6 766.0,2281.0 C793.5,2283.4 820.5,2287.8 848.0,2293.7 C875.5,2299.6 903.3,2309.6 931.0,2316.5 C958.7,2323.4 986.3,2332.2 1014.0,2335.0 C1041.7,2337.8 1069.3,2335.8 1097.0,2333.0 C1124.7,2330.2 1145.5,2325.1 1180.0,2318.5 C1214.5,2311.9 1267.3,2301.4 1304.0,2293.7 C1340.7,2285.9 1355.0,2283.9 1400.0,2272.0 C1445.0,2260.1 1518.8,2238.0 1574.0,2222.0 C1629.2,2206.0 1677.2,2189.3 1731.0,2176.0 C1784.8,2162.7 1841.8,2152.7 1897.0,2142.0 C1952.2,2131.3 2011.5,2121.7 2062.0,2112.0 C2112.5,2102.3 2149.5,2094.0 2200.0,2084.0 C2250.5,2074.0 2316.7,2061.0 2365.0,2052.0 C2413.3,2043.0 2448.5,2037.3 2490.0,2030.0 C2531.5,2022.7 2574.7,2014.7 2614.0,2008.0 C2653.3,2001.3 2707.3,1993.0 2726.0,1990.0 L2726.0,2103.0 C2707.3,2106.4 2653.3,2116.1 2614.0,2123.7 C2574.7,2131.3 2531.4,2139.5 2490.0,2148.5 C2448.6,2157.5 2413.9,2166.9 2365.6,2177.5 C2317.3,2188.1 2257.4,2200.3 2200.0,2212.0 C2142.6,2223.7 2071.5,2237.2 2021.0,2247.5 C1970.5,2257.8 1945.3,2263.7 1897.0,2274.0 C1848.7,2284.3 1786.2,2297.4 1731.0,2309.6 C1675.8,2321.8 1620.8,2334.9 1565.6,2347.0 C1510.4,2359.1 1443.6,2373.0 1400.0,2382.0 C1356.4,2391.0 1340.7,2393.7 1304.0,2401.0 C1267.3,2408.3 1214.5,2419.7 1180.0,2426.0 C1145.5,2432.3 1124.7,2435.8 1097.0,2438.6 C1069.3,2441.4 1041.7,2444.2 1014.0,2442.8 C986.3,2441.4 958.7,2436.2 931.0,2430.0 C903.3,2423.8 875.5,2413.0 848.0,2405.5 C820.5,2398.0 793.5,2389.0 766.0,2384.8 C738.5,2380.7 710.7,2380.6 683.0,2380.6 C655.3,2380.6 633.2,2383.9 600.0,2384.8 C566.8,2385.7 503.3,2385.8 484.0,2386.0 Z" fill="rgba(255,255,255,0.68)"/>
<path d="M484.0,2290.0 C503.3,2289.2 566.8,2286.8 600.0,2285.0 C633.2,2283.2 655.3,2279.7 683.0,2279.0 C710.7,2278.3 738.5,2278.6 766.0,2281.0 C793.5,2283.4 820.5,2287.8 848.0,2293.7 C875.5,2299.6 903.3,2309.6 931.0,2316.5 C958.7,2323.4 986.3,2332.2 1014.0,2335.0 C1041.7,2337.8 1069.3,2335.8 1097.0,2333.0 C1124.7,2330.2 1145.5,2325.1 1180.0,2318.5 C1214.5,2311.9 1267.3,2301.4 1304.0,2293.7 C1340.7,2285.9 1355.0,2283.9 1400.0,2272.0 C1445.0,2260.1 1518.8,2238.0 1574.0,2222.0 C1629.2,2206.0 1677.2,2189.3 1731.0,2176.0 C1784.8,2162.7 1841.8,2152.7 1897.0,2142.0 C1952.2,2131.3 2011.5,2121.7 2062.0,2112.0 C2112.5,2102.3 2149.5,2094.0 2200.0,2084.0 C2250.5,2074.0 2316.7,2061.0 2365.0,2052.0 C2413.3,2043.0 2448.5,2037.3 2490.0,2030.0 C2531.5,2022.7 2574.7,2014.7 2614.0,2008.0 C2653.3,2001.3 2707.3,1993.0 2726.0,1990.0 L2726.0,2103.0 C2707.3,2106.4 2653.3,2116.1 2614.0,2123.7 C2574.7,2131.3 2531.4,2139.5 2490.0,2148.5 C2448.6,2157.5 2413.9,2166.9 2365.6,2177.5 C2317.3,2188.1 2257.4,2200.3 2200.0,2212.0 C2142.6,2223.7 2071.5,2237.2 2021.0,2247.5 C1970.5,2257.8 1945.3,2263.7 1897.0,2274.0 C1848.7,2284.3 1786.2,2297.4 1731.0,2309.6 C1675.8,2321.8 1620.8,2334.9 1565.6,2347.0 C1510.4,2359.1 1443.6,2373.0 1400.0,2382.0 C1356.4,2391.0 1340.7,2393.7 1304.0,2401.0 C1267.3,2408.3 1214.5,2419.7 1180.0,2426.0 C1145.5,2432.3 1124.7,2435.8 1097.0,2438.6 C1069.3,2441.4 1041.7,2444.2 1014.0,2442.8 C986.3,2441.4 958.7,2436.2 931.0,2430.0 C903.3,2423.8 875.5,2413.0 848.0,2405.5 C820.5,2398.0 793.5,2389.0 766.0,2384.8 C738.5,2380.7 710.7,2380.6 683.0,2380.6 C655.3,2380.6 633.2,2383.9 600.0,2384.8 C566.8,2385.7 503.3,2385.8 484.0,2386.0 Z" fill="rgba(38,150,78,0.36)" stroke="rgba(20,70,40,0.55)" stroke-width="1.5"/>
<path d="M484.0,2309.2 C503.3,2308.5 566.8,2306.6 600.0,2305.0 C633.2,2303.3 655.3,2299.9 683.0,2299.3 C710.7,2298.8 738.5,2299.0 766.0,2301.8 C793.5,2304.6 820.5,2309.8 848.0,2316.1 C875.5,2322.3 903.3,2332.4 931.0,2339.2 C958.7,2345.9 986.3,2354.1 1014.0,2356.6 C1041.7,2359.0 1069.3,2356.9 1097.0,2354.1 C1124.7,2351.4 1145.5,2346.5 1180.0,2340.0 C1214.5,2333.5 1267.3,2322.8 1304.0,2315.2 C1340.7,2307.5 1355.3,2305.4 1400.0,2294.0 C1444.7,2282.6 1517.2,2262.2 1572.3,2247.0 C1627.5,2231.8 1676.9,2215.8 1731.0,2202.7 C1785.1,2189.6 1843.2,2179.0 1897.0,2168.4 C1950.8,2157.8 2003.3,2148.9 2053.8,2139.1 C2104.3,2129.3 2148.1,2119.9 2200.0,2109.6 C2251.9,2099.3 2316.8,2086.4 2365.1,2077.1 C2413.5,2067.8 2448.5,2061.4 2490.0,2053.7 C2531.5,2046.0 2574.7,2038.0 2614.0,2031.1 C2653.3,2024.3 2707.3,2015.7 2726.0,2012.6 L2726.0,2080.4 C2707.3,2083.8 2653.3,2093.2 2614.0,2100.6 C2574.7,2108.0 2531.4,2116.2 2490.0,2124.8 C2448.6,2133.4 2413.8,2142.1 2365.5,2152.4 C2317.1,2162.7 2256.0,2175.1 2200.0,2186.4 C2144.0,2197.7 2079.7,2210.2 2029.2,2220.4 C1978.7,2230.6 1946.7,2237.2 1897.0,2247.6 C1847.3,2258.0 1786.0,2270.5 1731.0,2282.9 C1676.0,2295.3 1622.4,2309.1 1567.3,2322.0 C1512.1,2334.9 1443.9,2350.4 1400.0,2360.0 C1356.1,2369.6 1340.7,2372.1 1304.0,2379.5 C1267.3,2387.0 1214.5,2398.2 1180.0,2404.5 C1145.5,2410.8 1124.7,2414.7 1097.0,2417.5 C1069.3,2420.3 1041.7,2422.9 1014.0,2421.2 C986.3,2419.5 958.7,2413.7 931.0,2407.3 C903.3,2401.0 875.5,2390.3 848.0,2383.1 C820.5,2375.9 793.5,2367.8 766.0,2364.0 C738.5,2360.2 710.7,2360.1 683.0,2360.3 C655.3,2360.4 633.2,2363.8 600.0,2364.8 C566.8,2365.9 503.3,2366.5 484.0,2366.8 Z" fill="rgba(22,150,66,0.55)"/>
</g>
<g id="green2">
<g transform="translate(800,2350) scale(0.41408)">

<rect x="100" y="295" width="330" height="205" fill="rgba(20,155,62,0.40)" stroke="rgba(18,70,38,0.65)" stroke-width="3"/>
<rect x="430" y="295" width="22" height="205" fill="rgba(38,150,78,0.36)" stroke="rgba(18,70,38,0.65)" stroke-width="2"/>
<circle cx="600" cy="70" r="105" fill="none" stroke="rgba(25,165,70,0.42)" stroke-width="42"/>
<circle cx="600" cy="70" r="50" fill="rgba(120,200,150,0.45)" stroke="rgba(25,150,70,0.5)" stroke-width="8"/>

</g>

<g transform="translate(40,2400) scale(0.41408)">

<path d="M400,245 L720,260 L1000,235 L1330,250 L1500,262 L1750,225 L1880,172 L1934,165 L1934,385 L1750,385 L1500,425 L1300,442 L1000,447 L700,432 L400,420 Z" fill="rgba(110,185,140,0.38)" stroke="rgba(18,70,38,0.65)" stroke-width="4"/>
<path d="M410,290 Q700,300 1000,285 Q1400,300 1800,230 M410,330 Q700,345 1000,335 Q1400,350 1850,290 M410,375 Q700,392 1000,390 Q1400,395 1850,345 M420,400 Q700,415 1000,420 Q1300,420 1500,395" fill="none" stroke="rgba(18,70,38,0.65)" stroke-width="3.5"/>
<path d="M1100,445 Q1150,330 1300,250 L1400,255 Q1250,340 1200,445 Z" fill="rgba(38,150,78,0.36)"/>
<path d="M720,260 Q725,195 805,192 Q885,195 890,260 Z" fill="rgba(38,150,78,0.36)" stroke="rgba(18,70,38,0.65)" stroke-width="3"/>
<rect x="775" y="260" width="75" height="300" fill="rgba(30,150,72,0.45)" stroke="rgba(18,70,38,0.65)" stroke-width="3"/>
<path d="M740,495 L880,495 L880,545 L850,562 L770,562 L740,545 Z" fill="rgba(30,150,72,0.45)" stroke="rgba(18,70,38,0.65)" stroke-width="3"/>
<path d="M1190,262 Q1195,202 1260,200 Q1325,202 1330,262 Z" fill="rgba(38,150,78,0.36)" stroke="rgba(18,70,38,0.65)" stroke-width="3"/>
<rect x="1212" y="262" width="98" height="300" fill="rgba(30,150,72,0.45)" stroke="rgba(18,70,38,0.65)" stroke-width="3"/>
<path d="M1200,500 L1330,500 L1330,550 L1300,567 L1230,567 L1200,550 Z" fill="rgba(30,150,72,0.45)" stroke="rgba(18,70,38,0.65)" stroke-width="3"/>
<path d="M1240,560 L1240,580 L1380,580 L1380,480 Q1382,462 1400,462 L1440,462 L1440,575 L1500,575 L1500,600 L1350,600 L1350,690 L1470,690 L1470,630" fill="none" stroke="rgba(18,70,38,0.65)" stroke-width="3.5"/>
<path d="M1330,600 L1480,600 L1480,690 L1450,690 L1450,768 L1375,768 L1375,690 L1345,690 Z" fill="rgba(120,190,150,0.35)" stroke="rgba(18,70,38,0.65)" stroke-width="3"/>
<path d="M540,0 L860,0 L855,40 L800,70 L640,80 L560,60 Z" fill="rgba(30,150,72,0.45)" stroke="rgba(18,70,38,0.65)" stroke-width="3"/>
<path d="M215,0 L345,0 L345,110 L215,110 Z" fill="rgba(45,125,80,0.75)"/>
<path d="M170,105 L395,105 Q425,130 415,170 Q430,205 418,240 Q432,300 418,340 Q430,400 410,440 L140,440 Q120,400 132,340 Q118,300 132,240 Q120,205 145,170 Q135,130 170,105 Z" fill="rgba(28,135,68,0.82)" stroke="#123d22" stroke-width="4"/>
<path d="M150,175 Q280,195 410,172 M135,245 Q280,265 418,242 M135,340 Q280,360 418,338" fill="none" stroke="#123d22" stroke-width="4"/>
<ellipse cx="280" cy="300" rx="85" ry="55" fill="rgba(20,120,55,0.5)"/>

</g>

<g transform="translate(40,1920) scale(0.31056)">

<path d="M865,490 L945,485 L960,700 L985,720 L985,860 L820,860 L820,720 L850,700 Z" fill="rgba(60,150,95,0.75)" stroke="rgba(18,70,38,0.65)" stroke-width="4"/>
<path d="M820,700 L985,700 M800,835 L910,835" stroke="#123d22" stroke-width="5"/>
<path d="M320,1085 L400,1085 L400,1165 L320,1165 Z" fill="rgba(45,125,80,0.75)"/>
<path d="M330,1490 L560,1490 L535,1690 L300,1700 Z" fill="rgba(45,125,80,0.85)"/>
<path d="M830,1010 L1000,1010 L1040,1160 L760,1160 Z" fill="rgba(150,205,170,0.45)" stroke="rgba(18,70,38,0.65)" stroke-width="3"/>
<path d="M745,1160 L1040,1150 Q1010,1200 1005,1260 Q990,1330 1000,1390 L790,1400 Q770,1330 800,1290 Q760,1230 745,1160 Z" fill="rgba(40,150,80,0.70)" stroke="#123d22" stroke-width="4"/>
<path d="M720,1400 L1140,1380 L1140,1600 L1100,1640 L760,1650 L720,1610 Z" fill="rgba(60,160,95,0.55)" stroke="rgba(18,70,38,0.65)" stroke-width="4"/>
<path d="M1000,1390 L1450,1340 L1450,1500 L1140,1560 Z" fill="rgba(120,190,150,0.35)" stroke="rgba(18,70,38,0.65)" stroke-width="3"/>
<path d="M1430,1215 Q1440,1185 1480,1182 L1934,1180 L1934,1500 L1480,1502 Q1440,1498 1430,1470 Z" fill="rgba(30,150,70,0.45)" stroke="rgba(18,70,38,0.65)" stroke-width="4"/>

</g>

<g transform="translate(3200,2350) scale(0.41408)">

<rect x="760" y="325" width="262" height="55" fill="rgba(20,140,60,0.45)" stroke="rgba(18,70,38,0.65)" stroke-width="3"/>
<circle cx="908" cy="400" r="36" fill="rgba(30,150,70,0.55)" stroke="rgba(18,70,38,0.65)" stroke-width="3"/><circle cx="908" cy="400" r="16" fill="rgba(140,200,160,0.8)" stroke="rgba(18,70,38,0.65)" stroke-width="2"/>
<rect x="1030" y="290" width="450" height="212" fill="rgba(28,160,68,0.78)" stroke="rgba(18,70,38,0.65)" stroke-width="3"/>
<rect x="1160" y="290" width="110" height="212" fill="rgba(15,150,50,0.4)"/>
<path d="M1480,300 L1590,310 L1590,490 L1480,500 Z" fill="rgba(28,160,68,0.78)" stroke="rgba(18,70,38,0.65)" stroke-width="3"/>
<path d="M1590,272 L1720,272 L1720,530 L1590,530 Z" fill="rgba(70,170,105,0.5)" stroke="rgba(18,70,38,0.65)" stroke-width="3"/>
<path d="M1530,350 L1570,400 L1530,450" fill="none" stroke="rgba(18,70,38,0.65)" stroke-width="3"/>
<rect x="1265" y="135" width="210" height="425" fill="rgba(45,170,85,0.55)" stroke="rgba(18,70,38,0.65)" stroke-width="4"/>
<path d="M1265,400 L1290,440 L1290,530 M1475,400 L1450,440 L1450,530" fill="none" stroke="rgba(18,70,38,0.65)" stroke-width="3"/>
<circle cx="1355" cy="230" r="58" fill="rgba(30,140,70,0.5)" stroke="rgba(18,70,38,0.65)" stroke-width="3"/><path d="M1303,230 L1329,185 L1381,185 L1407,230 L1381,275 L1329,275 Z" fill="rgba(90,175,120,0.6)" stroke="rgba(18,70,38,0.65)" stroke-width="3"/><circle cx="1355" cy="230" r="24" fill="rgba(170,215,185,0.9)" stroke="rgba(18,70,38,0.65)" stroke-width="3"/>

</g>

<g transform="translate(3750,2400) scale(0.39493)">

<path d="M410,215 L600,240 L700,215 L1200,210 L1300,250 L1400,268 L1400,335 L1300,362 L1200,388 L700,378 L600,352 L410,388 Z" fill="rgba(110,185,140,0.38)" stroke="rgba(18,70,38,0.65)" stroke-width="4"/>
<path d="M420,260 Q600,285 700,250 L1190,248 Q1290,290 1395,295 M420,345 Q600,320 700,340 L1190,350 Q1290,320 1395,310 M700,250 L700,340 M950,248 L950,348 M1190,248 L1190,350" fill="none" stroke="rgba(18,70,38,0.65)" stroke-width="3.5"/>
<ellipse cx="1050" cy="298" rx="90" ry="22" fill="none" stroke="rgba(18,70,38,0.65)" stroke-width="3"/>
<ellipse cx="480" cy="300" rx="60" ry="50" fill="rgba(38,150,78,0.36)" stroke="rgba(18,70,38,0.65)" stroke-width="3"/>
<path d="M1470,0 L1600,0 L1600,115 L1470,115 Z" fill="rgba(45,125,80,0.75)"/>
<path d="M1420,110 L1660,110 Q1690,135 1680,175 Q1695,215 1682,250 Q1695,320 1680,360 Q1690,410 1668,440 L1410,440 Q1388,410 1398,360 Q1384,320 1398,250 Q1385,215 1400,175 Q1390,135 1420,110 Z" fill="rgba(28,135,68,0.82)" stroke="#123d22" stroke-width="4"/>
<path d="M1400,178 Q1540,198 1680,176 M1398,250 Q1540,270 1682,250 M1398,360 Q1540,380 1680,360" fill="none" stroke="#123d22" stroke-width="4"/>
<path d="M1490,290 L1505,285 L1512,300 L1508,340 L1520,365 L1508,372 Z M1585,290 L1570,285 L1563,300 L1567,340 L1555,365 L1567,372 Z" fill="#0f2d1a"/>

</g>

<g transform="translate(3700,1900) scale(0.41408)">
<path d="M1490,1200 L1625,1200 L1640,1460 L1470,1460 Z" fill="rgba(45,125,80,0.85)" stroke="#123d22" stroke-width="3"/><path d="M1465,1310 Q1550,1325 1690,1305" stroke="#0d2a17" stroke-width="5" fill="none"/>
<rect x="1560" y="860" width="80" height="70" fill="rgba(45,125,80,0.6)"/>
<rect x="60" y="1220" width="205" height="240" fill="rgba(45,170,85,0.5)" stroke="rgba(18,70,38,0.65)" stroke-width="4"/>
</g>
</g>
<g id="tracbar">
<path d="M1267.0,2130.0 C1289.2,2128.0 1364.0,2121.4 1400.0,2118.3 C1436.0,2115.2 1455.3,2114.4 1483.0,2111.4 C1510.7,2108.4 1538.5,2104.7 1566.0,2100.0 C1593.5,2095.3 1620.5,2088.9 1648.0,2083.0 C1675.5,2077.0 1689.5,2073.5 1731.0,2064.5 C1772.5,2055.5 1841.8,2040.6 1897.0,2029.0 C1952.2,2017.4 2012.0,2005.4 2062.5,1994.8 C2113.0,1984.3 2163.2,1974.3 2200.0,1965.6 C2236.8,1956.9 2255.4,1952.0 2283.0,1942.6 C2310.6,1933.3 2338.1,1921.6 2365.6,1909.4 C2393.1,1897.1 2420.4,1881.7 2448.0,1869.1 C2475.6,1856.5 2503.3,1843.5 2531.0,1833.8 C2558.7,1824.2 2589.2,1816.1 2614.0,1811.3 C2638.8,1806.4 2652.3,1804.6 2680.0,1804.8 C2707.7,1805.1 2749.6,1808.3 2780.0,1812.8 C2810.4,1817.3 2835.0,1824.2 2862.5,1831.8 C2890.0,1839.4 2922.1,1850.8 2945.0,1858.4 C2967.9,1866.0 2979.8,1870.8 3000.0,1877.2 C3020.2,1883.6 3048.2,1892.4 3066.0,1896.8 C3083.8,1901.3 3080.8,1900.0 3107.0,1904.0 C3133.2,1908.0 3191.7,1917.5 3223.0,1921.0 C3254.3,1924.5 3283.0,1924.3 3295.0,1925.0 L3297.5,2039.0 C3285.1,2037.9 3254.8,2039.9 3223.0,2032.6 C3191.2,2025.3 3133.2,2003.4 3107.0,1995.0 C3080.8,1986.6 3083.8,1987.5 3066.0,1982.0 C3048.2,1976.5 3020.2,1968.2 3000.0,1962.0 C2979.8,1955.8 2967.9,1952.2 2945.0,1945.0 C2922.1,1937.8 2890.0,1924.2 2862.5,1919.0 C2835.0,1913.8 2810.4,1912.0 2780.0,1914.0 C2749.6,1916.0 2707.7,1925.2 2680.0,1931.0 C2652.3,1936.8 2638.8,1943.5 2614.0,1949.0 C2589.2,1954.5 2558.7,1958.8 2531.0,1964.0 C2503.3,1969.2 2475.6,1974.7 2448.0,1980.0 C2420.4,1985.3 2393.1,1989.0 2365.6,1996.0 C2338.1,2003.0 2310.6,2014.2 2283.0,2022.0 C2255.4,2029.8 2236.8,2034.6 2200.0,2042.9 C2163.2,2051.3 2113.0,2061.6 2062.5,2072.1 C2012.0,2082.6 1952.2,2094.3 1897.0,2105.7 C1841.8,2117.1 1772.5,2131.8 1731.0,2140.7 C1689.5,2149.5 1675.5,2153.0 1648.0,2158.8 C1620.5,2164.6 1593.5,2170.8 1566.0,2175.5 C1538.5,2180.1 1510.7,2183.5 1483.0,2186.5 C1455.3,2189.5 1436.0,2190.2 1400.0,2193.3 C1364.0,2196.3 1289.2,2203.0 1267.0,2205.0 Z" fill="#262626" stroke="#141414" stroke-width="2.5"/>
<path d="M1267.0,2133.8 C1289.2,2131.8 1364.0,2125.1 1400.0,2122.0 C1436.0,2118.9 1455.3,2118.2 1483.0,2115.2 C1510.7,2112.1 1538.5,2108.5 1566.0,2103.8 C1593.5,2099.0 1620.5,2092.7 1648.0,2086.7 C1675.5,2080.8 1689.5,2077.3 1731.0,2068.3 C1772.5,2059.3 1841.8,2044.4 1897.0,2032.8 C1952.2,2021.2 2012.0,2009.3 2062.5,1998.7 C2113.0,1988.1 2163.2,1978.1 2200.0,1969.5 C2236.8,1960.8 2255.4,1955.9 2283.0,1946.6 C2310.6,1937.3 2338.1,1925.7 2365.6,1913.7 C2393.1,1901.7 2420.4,1886.9 2448.0,1874.7 C2475.6,1862.4 2503.3,1849.8 2531.0,1840.4 C2558.7,1830.9 2589.2,1823.0 2614.0,1818.2 C2638.8,1813.3 2652.3,1811.2 2680.0,1811.2 C2707.7,1811.1 2749.6,1813.7 2780.0,1817.9 C2810.4,1822.0 2835.0,1828.7 2862.5,1836.1 C2890.0,1843.6 2922.1,1855.2 2945.0,1862.7 C2967.9,1870.3 2979.8,1875.1 3000.0,1881.5 C3020.2,1887.9 3048.2,1896.6 3066.0,1901.1 C3083.8,1905.6 3080.8,1904.3 3107.0,1908.5 C3133.2,1912.8 3191.6,1922.9 3223.0,1926.6 C3254.4,1930.3 3283.1,1930.0 3295.1,1930.7 L3297.4,2033.3 C3285.0,2032.3 3254.7,2034.2 3223.0,2027.0 C3191.3,2019.9 3133.2,1998.7 3107.0,1990.5 C3080.8,1982.2 3083.8,1983.2 3066.0,1977.7 C3048.2,1972.3 3020.2,1963.9 3000.0,1957.8 C2979.8,1951.6 2967.9,1947.9 2945.0,1940.7 C2922.1,1933.5 2890.0,1919.9 2862.5,1914.6 C2835.0,1909.4 2810.4,1907.3 2780.0,1908.9 C2749.6,1910.6 2707.7,1919.2 2680.0,1924.7 C2652.3,1930.2 2638.8,1936.6 2614.0,1942.1 C2589.2,1947.6 2558.7,1952.1 2531.0,1957.5 C2503.3,1962.9 2475.6,1968.8 2448.0,1974.5 C2420.4,1980.2 2393.1,1984.4 2365.6,1991.7 C2338.1,1998.9 2310.6,2010.1 2283.0,2018.0 C2255.4,2025.9 2236.8,2030.7 2200.0,2039.0 C2163.2,2047.4 2113.0,2057.8 2062.5,2068.3 C2012.0,2078.7 1952.2,2090.5 1897.0,2101.9 C1841.8,2113.3 1772.5,2128.0 1731.0,2136.9 C1689.5,2145.7 1675.5,2149.2 1648.0,2155.0 C1620.5,2160.8 1593.5,2167.1 1566.0,2171.7 C1538.5,2176.3 1510.7,2179.8 1483.0,2182.7 C1455.3,2185.7 1436.0,2186.4 1400.0,2189.5 C1364.0,2192.6 1289.2,2199.3 1267.0,2201.2 Z" fill="#303030"/>
<path d="M1267.0,2137.5 C1289.2,2135.5 1364.0,2128.9 1400.0,2125.8 C1436.0,2122.7 1455.3,2121.9 1483.0,2118.9 C1510.7,2115.9 1538.5,2112.3 1566.0,2107.5 C1593.5,2102.8 1620.5,2096.4 1648.0,2090.5 C1675.5,2084.6 1689.5,2081.1 1731.0,2072.1 C1772.5,2063.1 1841.8,2048.2 1897.0,2036.6 C1952.2,2025.1 2012.0,2013.1 2062.5,2002.6 C2113.0,1992.0 2163.2,1982.0 2200.0,1973.3 C2236.8,1964.7 2255.4,1959.8 2283.0,1950.6 C2310.6,1941.4 2338.1,1929.8 2365.6,1918.0 C2393.1,1906.3 2420.4,1892.1 2448.0,1880.2 C2475.6,1868.4 2503.3,1856.1 2531.0,1846.9 C2558.7,1837.7 2589.2,1829.9 2614.0,1825.0 C2638.8,1820.1 2652.3,1817.8 2680.0,1817.5 C2707.7,1817.1 2749.6,1819.1 2780.0,1822.9 C2810.4,1826.8 2835.0,1833.1 2862.5,1840.5 C2890.0,1847.9 2922.1,1859.5 2945.0,1867.1 C2967.9,1874.6 2979.8,1879.3 3000.0,1885.7 C3020.2,1892.1 3048.2,1900.8 3066.0,1905.3 C3083.8,1909.9 3080.8,1908.6 3107.0,1913.1 C3133.2,1917.6 3191.6,1928.3 3223.0,1932.2 C3254.4,1936.0 3283.2,1935.7 3295.2,1936.4 L3297.1,2021.9 C3284.8,2020.9 3254.7,2022.6 3223.0,2015.9 C3191.3,2009.1 3133.2,1989.1 3107.0,1981.3 C3080.8,1973.6 3083.8,1974.6 3066.0,1969.2 C3048.2,1963.9 3020.2,1955.5 3000.0,1949.3 C2979.8,1943.1 2967.9,1939.2 2945.0,1932.0 C2922.1,1924.8 2890.0,1911.4 2862.5,1905.9 C2835.0,1900.4 2810.4,1897.8 2780.0,1898.8 C2749.6,1899.8 2707.7,1907.2 2680.0,1912.1 C2652.3,1917.0 2638.8,1922.9 2614.0,1928.3 C2589.2,1933.7 2558.7,1938.6 2531.0,1944.5 C2503.3,1950.3 2475.6,1956.9 2448.0,1963.4 C2420.4,1969.8 2393.1,1975.2 2365.6,1983.0 C2338.1,1990.8 2310.6,2002.0 2283.0,2010.1 C2255.4,2018.1 2236.8,2022.9 2200.0,2031.3 C2163.2,2039.7 2113.0,2050.0 2062.5,2060.5 C2012.0,2071.0 1952.2,2082.8 1897.0,2094.2 C1841.8,2105.7 1772.5,2120.4 1731.0,2129.2 C1689.5,2138.1 1675.5,2141.6 1648.0,2147.4 C1620.5,2153.2 1593.5,2159.5 1566.0,2164.1 C1538.5,2168.8 1510.7,2172.3 1483.0,2175.2 C1455.3,2178.2 1436.0,2178.9 1400.0,2182.0 C1364.0,2185.1 1289.2,2191.8 1267.0,2193.8 Z" fill="#3a3a3a"/>
<path d="M1267.0,2141.2 C1289.2,2139.3 1364.0,2132.6 1400.0,2129.5 C1436.0,2126.4 1455.3,2125.7 1483.0,2122.7 C1510.7,2119.6 1538.5,2116.0 1566.0,2111.3 C1593.5,2106.6 1620.5,2100.2 1648.0,2094.3 C1675.5,2088.4 1689.5,2084.9 1731.0,2075.9 C1772.5,2067.0 1841.8,2052.1 1897.0,2040.5 C1952.2,2028.9 2012.0,2017.0 2062.5,2006.4 C2113.0,1995.9 2163.2,1985.8 2200.0,1977.2 C2236.8,1968.5 2255.4,1963.7 2283.0,1954.5 C2310.6,1945.4 2338.1,1933.8 2365.6,1922.4 C2393.1,1910.9 2420.4,1897.3 2448.0,1885.8 C2475.6,1874.3 2503.3,1862.3 2531.0,1853.4 C2558.7,1844.4 2589.2,1836.9 2614.0,1831.9 C2638.8,1827.0 2652.3,1824.4 2680.0,1823.8 C2707.7,1823.1 2749.6,1824.5 2780.0,1828.0 C2810.4,1831.5 2835.0,1837.6 2862.5,1844.9 C2890.0,1852.1 2922.1,1863.9 2945.0,1871.4 C2967.9,1878.9 2979.8,1883.6 3000.0,1890.0 C3020.2,1896.3 3048.2,1905.0 3066.0,1909.6 C3083.8,1914.2 3080.8,1913.0 3107.0,1917.7 C3133.2,1922.3 3191.6,1933.7 3223.0,1937.7 C3254.4,1941.8 3283.3,1941.4 3295.4,1942.1 L3296.8,2007.1 C3284.5,2006.1 3254.6,2007.6 3223.0,2001.4 C3191.4,1995.1 3133.2,1976.7 3107.0,1969.5 C3080.8,1962.3 3083.8,1963.4 3066.0,1958.2 C3048.2,1952.9 3020.2,1944.5 3000.0,1938.3 C2979.8,1932.0 2967.9,1928.0 2945.0,1920.7 C2922.1,1913.5 2890.0,1900.4 2862.5,1894.6 C2835.0,1888.7 2810.4,1885.5 2780.0,1885.7 C2749.6,1885.8 2707.7,1891.5 2680.0,1895.7 C2652.3,1899.8 2638.8,1905.1 2614.0,1910.4 C2589.2,1915.7 2558.7,1921.1 2531.0,1927.6 C2503.3,1934.0 2475.6,1941.6 2448.0,1949.0 C2420.4,1956.3 2393.1,1963.3 2365.6,1971.7 C2338.1,1980.2 2310.6,1991.5 2283.0,1999.8 C2255.4,2008.0 2236.8,2012.8 2200.0,2021.3 C2163.2,2029.7 2113.0,2040.0 2062.5,2050.5 C2012.0,2061.0 1952.2,2072.8 1897.0,2084.2 C1841.8,2095.7 1772.5,2110.5 1731.0,2119.3 C1689.5,2128.2 1675.5,2131.7 1648.0,2137.6 C1620.5,2143.4 1593.5,2149.7 1566.0,2154.3 C1538.5,2159.0 1510.7,2162.5 1483.0,2165.5 C1455.3,2168.5 1436.0,2169.2 1400.0,2172.3 C1364.0,2175.4 1289.2,2182.0 1267.0,2184.0 Z" fill="#444444"/>
<path d="M1267.0,2145.0 C1289.2,2143.0 1364.0,2136.4 1400.0,2133.3 C1436.0,2130.2 1455.3,2129.4 1483.0,2126.4 C1510.7,2123.4 1538.5,2119.8 1566.0,2115.1 C1593.5,2110.4 1620.5,2104.0 1648.0,2098.1 C1675.5,2092.2 1689.5,2088.7 1731.0,2079.7 C1772.5,2070.8 1841.8,2055.9 1897.0,2044.3 C1952.2,2032.8 2012.0,2020.8 2062.5,2010.3 C2113.0,1999.8 2163.2,1989.7 2200.0,1981.1 C2236.8,1972.4 2255.4,1967.6 2283.0,1958.5 C2310.6,1949.5 2338.1,1937.9 2365.6,1926.7 C2393.1,1915.5 2420.4,1902.4 2448.0,1891.3 C2475.6,1880.2 2503.3,1868.6 2531.0,1859.9 C2558.7,1851.1 2589.2,1843.8 2614.0,1838.8 C2638.8,1833.9 2652.3,1831.0 2680.0,1830.1 C2707.7,1829.1 2749.6,1829.8 2780.0,1833.0 C2810.4,1836.2 2835.0,1842.1 2862.5,1849.2 C2890.0,1856.3 2922.1,1868.2 2945.0,1875.7 C2967.9,1883.2 2979.8,1887.8 3000.0,1894.2 C3020.2,1900.5 3048.2,1909.2 3066.0,1913.9 C3083.8,1918.5 3080.8,1917.3 3107.0,1922.2 C3133.2,1927.1 3191.6,1939.1 3223.0,1943.3 C3254.4,1947.6 3283.4,1947.1 3295.5,1947.8 L3296.5,1993.4 C3284.2,1992.5 3254.6,1993.8 3223.0,1988.0 C3191.4,1982.2 3133.2,1965.3 3107.0,1958.6 C3080.8,1951.9 3083.8,1953.0 3066.0,1947.9 C3048.2,1942.8 3020.2,1934.4 3000.0,1928.1 C2979.8,1921.8 2967.9,1917.7 2945.0,1910.4 C2922.1,1903.0 2890.0,1890.2 2862.5,1884.1 C2835.0,1878.0 2810.4,1874.1 2780.0,1873.5 C2749.6,1872.9 2707.7,1877.1 2680.0,1880.5 C2652.3,1883.9 2638.8,1888.7 2614.0,1893.9 C2589.2,1899.1 2558.7,1905.0 2531.0,1911.9 C2503.3,1918.9 2475.6,1927.4 2448.0,1935.7 C2420.4,1943.9 2393.1,1952.2 2365.6,1961.4 C2338.1,1970.5 2310.6,1981.8 2283.0,1990.3 C2255.4,1998.7 2236.8,2003.5 2200.0,2012.0 C2163.2,2020.5 2113.0,2030.7 2062.5,2041.2 C2012.0,2051.7 1952.2,2063.5 1897.0,2075.0 C1841.8,2086.5 1772.5,2101.3 1731.0,2110.2 C1689.5,2119.1 1675.5,2122.6 1648.0,2128.5 C1620.5,2134.3 1593.5,2140.6 1566.0,2145.3 C1538.5,2149.9 1510.7,2153.5 1483.0,2156.5 C1455.3,2159.5 1436.0,2160.2 1400.0,2163.3 C1364.0,2166.4 1289.2,2173.0 1267.0,2175.0 Z" fill="#4d4d4d"/>
<path d="M1267.0,2149.5 C1289.2,2147.5 1364.0,2140.9 1400.0,2137.8 C1436.0,2134.7 1455.3,2134.0 1483.0,2130.9 C1510.7,2127.9 1538.5,2124.3 1566.0,2119.6 C1593.5,2114.9 1620.5,2108.6 1648.0,2102.7 C1675.5,2096.8 1689.5,2093.3 1731.0,2084.3 C1772.5,2075.3 1841.8,2060.5 1897.0,2048.9 C1952.2,2037.4 2012.0,2025.5 2062.5,2014.9 C2113.0,2004.4 2163.2,1994.3 2200.0,1985.7 C2236.8,1977.1 2255.4,1972.2 2283.0,1963.3 C2310.6,1954.3 2338.1,1942.8 2365.6,1931.9 C2393.1,1921.0 2420.4,1908.7 2448.0,1898.0 C2475.6,1887.3 2503.3,1876.2 2531.0,1867.7 C2558.7,1859.2 2589.2,1852.1 2614.0,1847.1 C2638.8,1842.1 2652.3,1839.0 2680.0,1837.6 C2707.7,1836.3 2749.6,1836.3 2780.0,1839.1 C2810.4,1841.9 2835.0,1847.5 2862.5,1854.5 C2890.0,1861.4 2922.1,1873.4 2945.0,1880.9 C2967.9,1888.4 2979.8,1892.9 3000.0,1899.3 C3020.2,1905.6 3048.2,1914.2 3066.0,1919.0 C3083.8,1923.7 3080.8,1922.5 3107.0,1927.7 C3133.2,1932.8 3191.6,1945.5 3223.0,1950.0 C3254.4,1954.5 3283.5,1953.9 3295.7,1954.6 L3296.2,1982.0 C3284.0,1981.1 3254.5,1982.2 3223.0,1976.8 C3191.5,1971.4 3133.2,1955.7 3107.0,1949.5 C3080.8,1943.3 3083.8,1944.4 3066.0,1939.4 C3048.2,1934.4 3020.2,1925.9 3000.0,1919.6 C2979.8,1913.3 2967.9,1909.1 2945.0,1901.7 C2922.1,1894.3 2890.0,1881.8 2862.5,1875.4 C2835.0,1869.0 2810.4,1864.6 2780.0,1863.4 C2749.6,1862.2 2707.7,1865.1 2680.0,1867.9 C2652.3,1870.7 2638.8,1875.0 2614.0,1880.1 C2589.2,1885.3 2558.7,1891.5 2531.0,1898.9 C2503.3,1906.3 2475.6,1915.6 2448.0,1924.6 C2420.4,1933.5 2393.1,1943.1 2365.6,1952.7 C2338.1,1962.3 2310.6,1973.7 2283.0,1982.3 C2255.4,1990.9 2236.8,1995.7 2200.0,2004.3 C2163.2,2012.8 2113.0,2023.0 2062.5,2033.5 C2012.0,2044.0 1952.2,2055.8 1897.0,2067.3 C1841.8,2078.9 1772.5,2093.7 1731.0,2102.6 C1689.5,2111.5 1675.5,2115.0 1648.0,2120.9 C1620.5,2126.7 1593.5,2133.1 1566.0,2137.7 C1538.5,2142.4 1510.7,2145.9 1483.0,2148.9 C1455.3,2152.0 1436.0,2152.7 1400.0,2155.8 C1364.0,2158.9 1289.2,2165.5 1267.0,2167.5 Z" fill="#565656"/>
<path d="M1267.0,2153.2 C1289.2,2151.3 1364.0,2144.6 1400.0,2141.5 C1436.0,2138.4 1455.3,2137.7 1483.0,2134.7 C1510.7,2131.7 1538.5,2128.1 1566.0,2123.4 C1593.5,2118.7 1620.5,2112.4 1648.0,2106.5 C1675.5,2100.6 1689.5,2097.1 1731.0,2088.1 C1772.5,2079.2 1841.8,2064.3 1897.0,2052.8 C1952.2,2041.2 2012.0,2029.3 2062.5,2018.8 C2113.0,2008.3 2163.2,1998.2 2200.0,1989.6 C2236.8,1981.0 2255.4,1976.1 2283.0,1967.2 C2310.6,1958.4 2338.1,1946.9 2365.6,1936.2 C2393.1,1925.6 2420.4,1913.8 2448.0,1903.5 C2475.6,1893.2 2503.3,1882.5 2531.0,1874.2 C2558.7,1865.9 2589.2,1859.0 2614.0,1854.0 C2638.8,1848.9 2652.3,1845.6 2680.0,1844.0 C2707.7,1842.3 2749.6,1841.7 2780.0,1844.2 C2810.4,1846.6 2835.0,1852.0 2862.5,1858.8 C2890.0,1865.7 2922.1,1877.8 2945.0,1885.2 C2967.9,1892.7 2979.8,1897.2 3000.0,1903.5 C3020.2,1909.8 3048.2,1918.4 3066.0,1923.2 C3083.8,1928.0 3080.8,1926.8 3107.0,1932.2 C3133.2,1937.6 3191.5,1950.9 3223.0,1955.6 C3254.5,1960.3 3283.6,1959.5 3295.8,1960.3 L3296.1,1974.0 C3283.9,1973.2 3254.5,1974.1 3223.0,1969.0 C3191.5,1963.8 3133.2,1949.1 3107.0,1943.1 C3080.8,1937.2 3083.8,1938.4 3066.0,1933.5 C3048.2,1928.5 3020.2,1920.0 3000.0,1913.7 C2979.8,1907.4 2967.9,1903.0 2945.0,1895.6 C2922.1,1888.2 2890.0,1875.8 2862.5,1869.3 C2835.0,1862.7 2810.4,1858.0 2780.0,1856.3 C2749.6,1854.6 2707.7,1856.7 2680.0,1859.1 C2652.3,1861.5 2638.8,1865.4 2614.0,1870.5 C2589.2,1875.6 2558.7,1882.1 2531.0,1889.8 C2503.3,1897.5 2475.6,1907.3 2448.0,1916.8 C2420.4,1926.3 2393.1,1936.6 2365.6,1946.6 C2338.1,1956.6 2310.6,1968.1 2283.0,1976.8 C2255.4,1985.5 2236.8,1990.3 2200.0,1998.8 C2163.2,2007.4 2113.0,2017.5 2062.5,2028.1 C2012.0,2038.6 1952.2,2050.4 1897.0,2062.0 C1841.8,2073.5 1772.5,2088.3 1731.0,2097.3 C1689.5,2106.2 1675.5,2109.7 1648.0,2115.6 C1620.5,2121.4 1593.5,2127.8 1566.0,2132.4 C1538.5,2137.1 1510.7,2140.7 1483.0,2143.7 C1455.3,2146.7 1436.0,2147.4 1400.0,2150.5 C1364.0,2153.6 1289.2,2160.3 1267.0,2162.2 Z" fill="#5d5d5d"/>
</g>
<g transform="translate(600,1950) scale(0.41408)">
<path d="M940,455 Q990,405 1060,405 Q1120,410 1185,455 L1300,470 L1440,466 L1452,476 L1452,500 L1440,508 L1200,515 L1000,480 Z" fill="#e9e7ae" stroke="#55553a" stroke-width="4"/>
<path d="M870,690 L1060,700 L1030,735 L930,722 Z" fill="#e3e1a4" stroke="#55553a" stroke-width="3"/>
<rect x="1452" y="470" width="160" height="36" fill="#6e6a3e" stroke="#33301a" stroke-width="3"/>
<path d="M1470,470 L1470,506 M1490,470 L1490,506 M1510,470 L1510,506 M1530,470 L1530,506 M1550,470 L1550,506 M1570,470 L1570,506 M1590,470 L1590,506" stroke="#2e2b14" stroke-width="4"/>
</g>
<g id="draglink">
<path d="M453.0,2122.0 C484.2,2120.2 587.8,2113.7 640.0,2111.4 C692.2,2109.1 731.3,2107.9 766.0,2108.2 C800.7,2108.4 820.5,2110.4 848.0,2113.0 C875.5,2115.6 903.3,2120.0 931.0,2123.9 C958.7,2127.7 986.3,2132.1 1014.0,2136.2 C1041.7,2140.3 1069.3,2144.8 1097.0,2148.7 C1124.7,2152.5 1152.4,2156.9 1180.0,2159.5 C1207.6,2162.0 1235.0,2163.9 1262.5,2163.8 C1290.0,2163.6 1322.1,2160.5 1345.0,2158.4 C1367.9,2156.3 1377.0,2154.2 1400.0,2151.0 C1423.0,2147.9 1455.3,2143.5 1483.0,2139.5 C1510.7,2135.5 1538.5,2131.8 1566.0,2127.2 C1593.5,2122.6 1620.5,2117.5 1648.0,2112.1 C1675.5,2106.6 1689.5,2103.2 1731.0,2094.5 C1772.5,2085.8 1841.8,2070.9 1897.0,2060.0 C1952.2,2049.1 2012.0,2037.8 2062.5,2029.0 C2113.0,2020.2 2143.2,2015.4 2200.0,2007.1 C2256.8,1998.8 2369.2,1983.7 2403.0,1979.0 L2403.0,2061.6 C2369.2,2066.8 2256.8,2083.6 2200.0,2092.9 C2143.2,2102.3 2113.0,2108.3 2062.5,2117.7 C2012.0,2127.0 1952.2,2137.9 1897.0,2149.0 C1841.8,2160.0 1772.5,2174.3 1731.0,2183.8 C1689.5,2193.4 1675.5,2198.2 1648.0,2206.3 C1620.5,2214.4 1593.5,2224.1 1566.0,2232.4 C1538.5,2240.7 1510.7,2249.6 1483.0,2256.0 C1455.3,2262.4 1423.0,2267.9 1400.0,2271.1 C1377.0,2274.4 1367.9,2274.9 1345.0,2275.5 C1322.1,2276.1 1290.0,2276.4 1262.5,2275.0 C1235.0,2273.6 1207.6,2270.9 1180.0,2267.3 C1152.4,2263.6 1124.7,2258.3 1097.0,2253.2 C1069.3,2248.1 1041.7,2241.9 1014.0,2236.6 C986.3,2231.3 958.7,2226.0 931.0,2221.4 C903.3,2216.9 875.5,2212.4 848.0,2209.2 C820.5,2206.1 800.7,2204.1 766.0,2202.4 C731.3,2200.8 692.2,2200.3 640.0,2199.2 C587.8,2198.1 484.2,2196.5 453.0,2196.0 Z" fill="#262626" stroke="#141414" stroke-width="2.5"/>
<path d="M453.0,2125.7 C484.2,2124.1 587.8,2117.9 640.0,2115.8 C692.2,2113.7 731.3,2112.5 766.0,2112.9 C800.7,2113.2 820.5,2115.1 848.0,2117.8 C875.5,2120.4 903.3,2124.8 931.0,2128.8 C958.7,2132.7 986.3,2137.0 1014.0,2141.2 C1041.7,2145.4 1069.3,2149.9 1097.0,2153.9 C1124.7,2157.8 1152.4,2162.3 1180.0,2164.9 C1207.6,2167.4 1235.0,2169.4 1262.5,2169.3 C1290.0,2169.2 1322.1,2166.3 1345.0,2164.3 C1367.9,2162.2 1377.0,2160.2 1400.0,2157.0 C1423.0,2153.9 1455.3,2149.4 1483.0,2145.3 C1510.7,2141.2 1538.5,2137.2 1566.0,2132.5 C1593.5,2127.7 1620.5,2122.3 1648.0,2116.8 C1675.5,2111.2 1689.5,2107.7 1731.0,2099.0 C1772.5,2090.2 1841.8,2075.3 1897.0,2064.4 C1952.2,2053.5 2012.0,2042.3 2062.5,2033.5 C2113.0,2024.6 2143.2,2019.8 2200.0,2011.4 C2256.8,2003.0 2369.2,1987.8 2403.0,1983.1 L2403.0,2057.5 C2369.2,2062.7 2256.8,2079.3 2200.0,2088.6 C2143.2,2097.9 2113.0,2103.9 2062.5,2113.2 C2012.0,2122.5 1952.2,2133.5 1897.0,2144.5 C1841.8,2155.5 1772.5,2169.9 1731.0,2179.4 C1689.5,2188.9 1675.5,2193.6 1648.0,2201.6 C1620.5,2209.6 1593.5,2219.1 1566.0,2227.2 C1538.5,2235.3 1510.7,2243.9 1483.0,2250.2 C1455.3,2256.5 1423.0,2261.9 1400.0,2265.1 C1377.0,2268.4 1367.9,2268.9 1345.0,2269.6 C1322.1,2270.4 1290.0,2270.7 1262.5,2269.4 C1235.0,2268.1 1207.6,2265.5 1180.0,2261.9 C1152.4,2258.3 1124.7,2253.0 1097.0,2247.9 C1069.3,2242.9 1041.7,2236.8 1014.0,2231.6 C986.3,2226.3 958.7,2221.1 931.0,2216.5 C903.3,2212.0 875.5,2207.5 848.0,2204.4 C820.5,2201.3 800.7,2199.3 766.0,2197.7 C731.3,2196.1 692.2,2195.7 640.0,2194.8 C587.8,2193.9 484.2,2192.7 453.0,2192.3 Z" fill="#303030"/>
<path d="M453.0,2129.4 C484.2,2127.9 587.8,2122.2 640.0,2120.2 C692.2,2118.2 731.3,2117.2 766.0,2117.6 C800.7,2118.0 820.5,2119.9 848.0,2122.6 C875.5,2125.3 903.3,2129.7 931.0,2133.6 C958.7,2137.6 986.3,2142.0 1014.0,2146.2 C1041.7,2150.5 1069.3,2155.1 1097.0,2159.1 C1124.7,2163.1 1152.4,2167.6 1180.0,2170.2 C1207.6,2172.9 1235.0,2174.9 1262.5,2174.9 C1290.0,2174.9 1322.1,2172.1 1345.0,2170.1 C1367.9,2168.1 1377.0,2166.2 1400.0,2163.0 C1423.0,2159.9 1455.3,2155.4 1483.0,2151.2 C1510.7,2146.9 1538.5,2142.7 1566.0,2137.7 C1593.5,2132.8 1620.5,2127.2 1648.0,2121.5 C1675.5,2115.8 1689.5,2112.2 1731.0,2103.4 C1772.5,2094.7 1841.8,2079.8 1897.0,2068.9 C1952.2,2058.0 2012.0,2046.8 2062.5,2037.9 C2113.0,2029.0 2143.2,2024.1 2200.0,2015.7 C2256.8,2007.2 2369.2,1992.0 2403.0,1987.3 L2403.0,2049.2 C2369.2,2054.3 2256.8,2070.8 2200.0,2080.0 C2143.2,2089.2 2113.0,2095.1 2062.5,2104.4 C2012.0,2113.6 1952.2,2124.6 1897.0,2135.6 C1841.8,2146.6 1772.5,2161.0 1731.0,2170.4 C1689.5,2179.9 1675.5,2184.5 1648.0,2192.2 C1620.5,2199.9 1593.5,2208.9 1566.0,2216.6 C1538.5,2224.4 1510.7,2232.4 1483.0,2238.5 C1455.3,2244.6 1423.0,2249.9 1400.0,2253.1 C1377.0,2256.3 1367.9,2257.1 1345.0,2257.9 C1322.1,2258.8 1290.0,2259.5 1262.5,2258.3 C1235.0,2257.2 1207.6,2254.6 1180.0,2251.1 C1152.4,2247.6 1124.7,2242.4 1097.0,2237.5 C1069.3,2232.6 1041.7,2226.7 1014.0,2221.5 C986.3,2216.4 958.7,2211.3 931.0,2206.8 C903.3,2202.3 875.5,2197.9 848.0,2194.8 C820.5,2191.7 800.7,2189.7 766.0,2188.3 C731.3,2186.8 692.2,2186.6 640.0,2186.0 C587.8,2185.5 484.2,2185.1 453.0,2184.9 Z" fill="#3a3a3a"/>
<path d="M453.0,2133.1 C484.2,2131.7 587.8,2126.4 640.0,2124.6 C692.2,2122.8 731.3,2121.8 766.0,2122.3 C800.7,2122.8 820.5,2124.7 848.0,2127.4 C875.5,2130.1 903.3,2134.5 931.0,2138.5 C958.7,2142.5 986.3,2147.0 1014.0,2151.3 C1041.7,2155.6 1069.3,2160.3 1097.0,2164.3 C1124.7,2168.4 1152.4,2172.9 1180.0,2175.6 C1207.6,2178.3 1235.0,2180.4 1262.5,2180.4 C1290.0,2180.5 1322.1,2177.9 1345.0,2176.0 C1367.9,2174.1 1377.0,2172.2 1400.0,2169.0 C1423.0,2165.9 1455.3,2161.3 1483.0,2157.0 C1510.7,2152.6 1538.5,2148.1 1566.0,2143.0 C1593.5,2137.9 1620.5,2132.0 1648.0,2126.2 C1675.5,2120.3 1689.5,2116.7 1731.0,2107.9 C1772.5,2099.1 1841.8,2084.3 1897.0,2073.3 C1952.2,2062.4 2012.0,2051.2 2062.5,2042.3 C2113.0,2033.4 2143.2,2028.5 2200.0,2020.0 C2256.8,2011.5 2369.2,1996.2 2403.0,1991.4 L2403.0,2038.5 C2369.2,2043.5 2256.8,2059.8 2200.0,2068.9 C2143.2,2077.9 2113.0,2083.6 2062.5,2092.8 C2012.0,2102.0 1952.2,2113.1 1897.0,2124.1 C1841.8,2135.1 1772.5,2149.5 1731.0,2158.8 C1689.5,2168.1 1675.5,2172.6 1648.0,2179.9 C1620.5,2187.3 1593.5,2195.7 1566.0,2203.0 C1538.5,2210.2 1510.7,2217.6 1483.0,2223.4 C1455.3,2229.1 1423.0,2234.3 1400.0,2237.5 C1377.0,2240.7 1367.9,2241.7 1345.0,2242.7 C1322.1,2243.8 1290.0,2244.8 1262.5,2243.8 C1235.0,2242.9 1207.6,2240.4 1180.0,2237.1 C1152.4,2233.8 1124.7,2228.7 1097.0,2223.9 C1069.3,2219.1 1041.7,2213.5 1014.0,2208.5 C986.3,2203.5 958.7,2198.5 931.0,2194.1 C903.3,2189.7 875.5,2185.3 848.0,2182.3 C820.5,2179.3 800.7,2177.3 766.0,2176.0 C731.3,2174.8 692.2,2174.7 640.0,2174.6 C587.8,2174.5 484.2,2175.2 453.0,2175.3 Z" fill="#444444"/>
<path d="M453.0,2136.8 C484.2,2135.5 587.8,2130.6 640.0,2129.0 C692.2,2127.3 731.3,2126.5 766.0,2127.0 C800.7,2127.5 820.5,2129.5 848.0,2132.2 C875.5,2135.0 903.3,2139.4 931.0,2143.4 C958.7,2147.4 986.3,2151.9 1014.0,2156.3 C1041.7,2160.6 1069.3,2165.4 1097.0,2169.6 C1124.7,2173.7 1152.4,2178.3 1180.0,2181.0 C1207.6,2183.8 1235.0,2185.9 1262.5,2186.0 C1290.0,2186.1 1322.1,2183.6 1345.0,2181.8 C1367.9,2180.0 1377.0,2178.2 1400.0,2175.0 C1423.0,2171.9 1455.3,2167.3 1483.0,2162.8 C1510.7,2158.3 1538.5,2153.6 1566.0,2148.3 C1593.5,2142.9 1620.5,2136.9 1648.0,2130.9 C1675.5,2124.9 1689.5,2121.2 1731.0,2112.4 C1772.5,2103.5 1841.8,2088.7 1897.0,2077.8 C1952.2,2066.8 2012.0,2055.7 2062.5,2046.8 C2113.0,2037.8 2143.2,2032.8 2200.0,2024.3 C2256.8,2015.7 2369.2,2000.3 2403.0,1995.5 L2403.0,2028.6 C2369.2,2033.6 2256.8,2049.6 2200.0,2058.6 C2143.2,2067.5 2113.0,2073.1 2062.5,2082.2 C2012.0,2091.3 1952.2,2102.4 1897.0,2113.4 C1841.8,2124.4 1772.5,2138.9 1731.0,2148.1 C1689.5,2157.3 1675.5,2161.6 1648.0,2168.6 C1620.5,2175.7 1593.5,2183.5 1566.0,2190.3 C1538.5,2197.1 1510.7,2203.9 1483.0,2209.4 C1455.3,2214.9 1423.0,2219.9 1400.0,2223.1 C1377.0,2226.3 1367.9,2227.4 1345.0,2228.7 C1322.1,2229.9 1290.0,2231.3 1262.5,2230.5 C1235.0,2229.7 1207.6,2227.3 1180.0,2224.1 C1152.4,2221.0 1124.7,2216.0 1097.0,2211.4 C1069.3,2206.7 1041.7,2201.3 1014.0,2196.4 C986.3,2191.6 958.7,2186.7 931.0,2182.4 C903.3,2178.1 875.5,2173.7 848.0,2170.7 C820.5,2167.8 800.7,2165.8 766.0,2164.7 C731.3,2163.6 692.2,2163.8 640.0,2164.1 C587.8,2164.4 484.2,2166.0 453.0,2166.4 Z" fill="#4d4d4d"/>
<path d="M453.0,2141.2 C484.2,2140.1 587.8,2135.7 640.0,2134.2 C692.2,2132.8 731.3,2132.0 766.0,2132.7 C800.7,2133.3 820.5,2135.2 848.0,2138.0 C875.5,2140.8 903.3,2145.2 931.0,2149.2 C958.7,2153.3 986.3,2157.9 1014.0,2162.3 C1041.7,2166.7 1069.3,2171.6 1097.0,2175.8 C1124.7,2180.0 1152.4,2184.7 1180.0,2187.5 C1207.6,2190.3 1235.0,2192.4 1262.5,2192.7 C1290.0,2192.9 1322.1,2190.6 1345.0,2188.8 C1367.9,2187.1 1377.0,2185.4 1400.0,2182.2 C1423.0,2179.1 1455.3,2174.4 1483.0,2169.8 C1510.7,2165.2 1538.5,2160.1 1566.0,2154.6 C1593.5,2149.0 1620.5,2142.7 1648.0,2136.6 C1675.5,2130.4 1689.5,2126.6 1731.0,2117.7 C1772.5,2108.8 1841.8,2094.1 1897.0,2083.1 C1952.2,2072.2 2012.0,2061.0 2062.5,2052.1 C2113.0,2043.1 2143.2,2038.0 2200.0,2029.4 C2256.8,2020.8 2369.2,2005.3 2403.0,2000.5 L2403.0,2020.3 C2369.2,2025.3 2256.8,2041.2 2200.0,2050.0 C2143.2,2058.8 2113.0,2064.3 2062.5,2073.3 C2012.0,2082.4 1952.2,2093.5 1897.0,2104.5 C1841.8,2115.4 1772.5,2130.0 1731.0,2139.2 C1689.5,2148.3 1675.5,2152.4 1648.0,2159.2 C1620.5,2166.0 1593.5,2173.4 1566.0,2179.8 C1538.5,2186.2 1510.7,2192.5 1483.0,2197.8 C1455.3,2203.0 1423.0,2207.9 1400.0,2211.1 C1377.0,2214.3 1367.9,2215.6 1345.0,2216.9 C1322.1,2218.3 1290.0,2220.0 1262.5,2219.4 C1235.0,2218.8 1207.6,2216.4 1180.0,2213.4 C1152.4,2210.3 1124.7,2205.4 1097.0,2200.9 C1069.3,2196.4 1041.7,2191.1 1014.0,2186.4 C986.3,2181.7 958.7,2176.9 931.0,2172.7 C903.3,2168.4 875.5,2164.0 848.0,2161.1 C820.5,2158.2 800.7,2156.3 766.0,2155.3 C731.3,2154.3 692.2,2154.7 640.0,2155.3 C587.8,2155.9 484.2,2158.4 453.0,2159.0 Z" fill="#565656"/>
<path d="M453.0,2144.9 C484.2,2143.9 587.8,2139.9 640.0,2138.6 C692.2,2137.4 731.3,2136.7 766.0,2137.4 C800.7,2138.1 820.5,2140.0 848.0,2142.8 C875.5,2145.6 903.3,2150.0 931.0,2154.1 C958.7,2158.2 986.3,2162.8 1014.0,2167.3 C1041.7,2171.8 1069.3,2176.8 1097.0,2181.1 C1124.7,2185.3 1152.4,2190.0 1180.0,2192.9 C1207.6,2195.7 1235.0,2197.9 1262.5,2198.2 C1290.0,2198.5 1322.1,2196.4 1345.0,2194.7 C1367.9,2193.0 1377.0,2191.4 1400.0,2188.2 C1423.0,2185.1 1455.3,2180.4 1483.0,2175.6 C1510.7,2170.9 1538.5,2165.5 1566.0,2159.8 C1593.5,2154.1 1620.5,2147.5 1648.0,2141.3 C1675.5,2135.0 1689.5,2131.1 1731.0,2122.2 C1772.5,2113.2 1841.8,2098.5 1897.0,2087.6 C1952.2,2076.6 2012.0,2065.5 2062.5,2056.5 C2113.0,2047.5 2143.2,2042.4 2200.0,2033.7 C2256.8,2025.1 2369.2,2009.5 2403.0,2004.6 L2403.0,2014.5 C2369.2,2019.4 2256.8,2035.2 2200.0,2044.0 C2143.2,2052.8 2113.0,2058.1 2062.5,2067.1 C2012.0,2076.2 1952.2,2087.3 1897.0,2098.2 C1841.8,2109.2 1772.5,2123.9 1731.0,2132.9 C1689.5,2142.0 1675.5,2146.0 1648.0,2152.6 C1620.5,2159.2 1593.5,2166.3 1566.0,2172.4 C1538.5,2178.6 1510.7,2184.6 1483.0,2189.6 C1455.3,2194.6 1423.0,2199.5 1400.0,2202.7 C1377.0,2205.8 1367.9,2207.3 1345.0,2208.8 C1322.1,2210.2 1290.0,2212.1 1262.5,2211.6 C1235.0,2211.1 1207.6,2208.8 1180.0,2205.8 C1152.4,2202.8 1124.7,2198.0 1097.0,2193.6 C1069.3,2189.2 1041.7,2184.0 1014.0,2179.4 C986.3,2174.7 958.7,2170.0 931.0,2165.8 C903.3,2161.7 875.5,2157.2 848.0,2154.4 C820.5,2151.5 800.7,2149.6 766.0,2148.7 C731.3,2147.8 692.2,2148.3 640.0,2149.2 C587.8,2150.0 484.2,2153.0 453.0,2153.8 Z" fill="#5d5d5d"/>
</g>
<g transform="translate(40,1920) scale(0.31056)">

<rect x="980" y="135" width="105" height="50" fill="#1a1a1a"/>
<rect x="895" y="165" width="295" height="25" rx="12" fill="#f6f6f6" stroke="#333" stroke-width="4"/>
<path d="M930,185 L1140,185 L1140,290 L930,290 Z" fill="url(#nutg)" stroke="#333" stroke-width="4"/>
<path d="M850,330 Q850,292 1036,292 Q1222,292 1222,330 L1222,570 Q1222,605 1036,605 Q850,605 850,570 Z" fill="url(#cylg)" stroke="#141414" stroke-width="6"/>
<rect x="975" y="600" width="145" height="85" fill="url(#silv)" stroke="#333" stroke-width="4"/>
<path d="M925,725 Q930,645 1000,615 L1200,615 Q1268,645 1275,725 Z" fill="#3e3e3e" stroke="#141414" stroke-width="6"/>
<path d="M925,722 L860,724 Q812,732 812,790 L812,900 Q815,960 880,963 L1200,962 Q1290,950 1335,895 L1335,655 Q1300,695 1275,722 Z" fill="url(#cylg)" stroke="#141414" stroke-width="6"/>
<path d="M1050,745 Q1200,740 1325,700 M1060,885 Q1200,880 1330,860 M1050,745 L1100,730 M1060,885 L1100,900" fill="none" stroke="#111" stroke-width="5"/>
<path d="M845,962 L1200,962 L1195,1020 Q1190,1062 1020,1062 Q860,1062 850,1020 Z" fill="#56705f" stroke="#1d3526" stroke-width="4"/>
<path d="M990,985 L1060,985 L1058,1010 L1045,1010 L1045,1060 L1030,1075 L1015,1075 L1005,1060 L1005,1010 L992,1010 Z" fill="#e2b526" stroke="#6b5200" stroke-width="3"/>

</g>

<g transform="translate(2200,1780) scale(0.41408)">

<path d="M490,480 L650,455 L650,662 L490,682 Z" fill="#0e0e0e"/>
<path d="M505,478 L505,680 M525,475 L525,678 M545,472 L545,675 M565,469 L565,672 M585,466 L585,670 M605,463 L605,667 M625,460 L625,665" stroke="#2c2c2c" stroke-width="4"/>
<path d="M880,432 L1240,420 L1240,545 L880,565 Z" fill="#3a3a3a" stroke="#141414" stroke-width="4"/>
<path d="M880,450 L1240,437 L1240,480 L880,495 Z" fill="#505050"/>
<path d="M905,562 L1240,543 L1240,560 L905,580 Z" fill="#0c0c0c"/><rect x="1050" y="538" width="35" height="16" fill="#e8e8e8"/>
<path d="M650,452 L680,440 L680,425 Q690,405 720,405 L850,405 Q876,406 880,432 L880,600 L862,628 L690,628 L650,602 Z" fill="#3c3c3c" stroke="#141414" stroke-width="5"/>
<path d="M690,420 L720,420 L720,620 L690,620 Q700,540 690,470 Z" fill="#515151"/>
<path d="M650,560 L690,575 L690,628 M880,560 L850,575 L862,628" fill="none" stroke="#141414" stroke-width="4"/>
<circle cx="775" cy="640" r="42" fill="none" stroke="#222" stroke-width="4"/>
<path d="M1240,380 L1440,365 Q1478,368 1482,400 L1482,600 L1482,815 L1275,825 L1270,600 L1240,560 Z" fill="#3b3b3b" stroke="#141414" stroke-width="5"/>
<path d="M1255,395 L1290,392 L1300,600 L1300,815 L1280,818 L1275,600 Z" fill="#505050"/>
<path d="M1480,418 L1620,398 L1620,505 L1480,520 Z" fill="#13251a"/>
<path d="M1620,398 L1932,392 L1932,522 L1620,503 Z" fill="#333" stroke="#141414" stroke-width="4"/>
<path d="M1620,412 L1932,406 L1932,445 L1620,440 Z" fill="#4a4a4a"/>
<circle cx="1350" cy="720" r="58" fill="#2b2b2b" stroke="#111" stroke-width="4"/><path d="M1295,720 L1322,673 L1378,673 L1405,720 L1378,767 L1322,767 Z" fill="#3e3e3e" stroke="#111" stroke-width="4"/><circle cx="1350" cy="715" r="28" fill="#7b7b7b" stroke="#111" stroke-width="3"/>
<circle cx="790" cy="752" r="58" fill="#2b2b2b" stroke="#111" stroke-width="4"/><path d="M735,752 L762,705 L818,705 L845,752 L818,799 L762,799 Z" fill="#3e3e3e" stroke="#111" stroke-width="4"/><circle cx="790" cy="747" r="28" fill="#7b7b7b" stroke="#111" stroke-width="3"/>

</g>

<g transform="translate(2900,1780) scale(0.41408)">

<path d="M780,345 L940,350 L958,420 L960,560 L945,625 L780,612 L830,480 Z" fill="#3a3a3a" stroke="#141414" stroke-width="4"/>
<path d="M790,360 L930,364 L945,420 L945,470 L830,470 Z" fill="#4a4a4a"/>
<path d="M940,348 L958,628" stroke="#fff" stroke-width="5"/>
<circle cx="1120" cy="500" r="186" fill="none" stroke="rgba(110,190,140,0.30)" stroke-width="14"/>
<circle cx="1120" cy="500" r="166" fill="#4b4b4b" stroke="#1a1a1a" stroke-width="5"/>
<circle cx="1120" cy="500" r="140" fill="#cdcac4" stroke="#333" stroke-width="4"/>
<circle cx="1120" cy="500" r="122" fill="none" stroke="#b9b6b0" stroke-width="10"/>
<circle cx="1120" cy="500" r="98" fill="#e9e7e3" stroke="#7fc096" stroke-width="14"/>
<circle cx="1120" cy="500" r="82" fill="#efedea" stroke="#2a2a2a" stroke-width="4"/>
<circle cx="1120" cy="500" r="66" fill="none" stroke="#3b7d53" stroke-width="6"/>
<circle cx="1120" cy="500" r="54" fill="#ffffff" stroke="#2a2a2a" stroke-width="5"/>
<circle cx="1130" cy="377" r="9" fill="#e9e7e3" stroke="#333" stroke-width="3"/><circle cx="1008" cy="442" r="9" fill="#e9e7e3" stroke="#333" stroke-width="3"/>
<path d="M1105,668 L1165,668 L1165,690 L1155,695 L1155,720 L1145,735 L1125,735 L1115,720 L1115,695 L1105,690 Z" fill="#ebe9ad" stroke="#55553a" stroke-width="3"/>
<path d="M0,405 L300,400 L300,520 L0,530 Z" fill="#333" stroke="#141414" stroke-width="4"/>
<path d="M0,420 L300,414 L300,452 L0,460 Z" fill="#4a4a4a"/>
<path d="M300,398 L525,405 L525,548 L300,522 Z" fill="#353535" stroke="#141414" stroke-width="4"/>
<path d="M300,430 L520,412 M300,500 L520,540 M380,470 L520,470" stroke="#111" stroke-width="4" fill="none"/>
<path d="M500,432 Q500,388 625,388 Q750,388 750,432 Z" fill="#3e3e3e" stroke="#141414" stroke-width="4"/>
<path d="M470,470 Q470,415 560,415 L700,415 Q782,418 782,480 L782,510 Q780,565 700,565 L560,565 Q470,562 470,510 Z" fill="url(#cylg)" stroke="#141414" stroke-width="5"/>
<path d="M475,490 L780,490" stroke="#111" stroke-width="4"/>
<path d="M482,560 L742,560 L738,590 Q735,612 612,612 Q490,612 486,590 Z" fill="#2c2c2c" stroke="#141414" stroke-width="4"/>
<path d="M592,606 L630,606 L628,625 L620,640 L602,640 L594,625 Z" fill="#e2b526" stroke="#6b5200" stroke-width="3"/>

</g>
<g id="green3">
<g transform="translate(2200,1780) scale(0.41408)">

<path d="M800,425 Q950,300 1150,275 Q1350,255 1560,330 Q1700,380 1840,420 L1620,400 L1480,420 L1440,365 L1240,380 L1240,420 L880,432 Z" fill="rgba(45,160,85,0.50)" stroke="rgba(18,70,38,0.5)" stroke-width="3"/>
<path d="M960,425 Q1100,340 1300,320 Q1450,315 1560,370 L1480,400 L1440,365 L1240,380 L1240,420 Z" fill="rgba(120,200,150,0.35)"/>
<rect x="700" y="600" width="205" height="262" rx="14" fill="rgba(55,160,90,0.55)" stroke="rgba(18,70,38,0.65)" stroke-width="4"/>
<circle cx="925" cy="735" r="40" fill="rgba(40,160,80,0.55)" stroke="rgba(18,70,38,0.65)" stroke-width="3"/><circle cx="925" cy="735" r="14" fill="#e8f3ec" stroke="rgba(18,70,38,0.65)" stroke-width="2"/>
<path d="M1100,615 L1290,578 L1500,545 L1620,515 L1620,440 L1760,425 L1760,690 L1620,715 L1500,742 L1290,778 L1100,788 Z" fill="rgba(30,160,72,0.50)" stroke="rgba(18,70,38,0.65)" stroke-width="3"/>
<path d="M1290,578 L1500,545 L1500,742 L1290,778 Z" fill="rgba(15,150,55,0.40)"/>
<path d="M1180,600 L1180,785 M1260,585 L1260,780 M1560,530 L1560,728" stroke="rgba(18,70,38,0.65)" stroke-width="3"/>
<path d="M1240,380 L1440,365 Q1478,368 1482,400 L1500,600 L1510,790 L1275,825 L1270,600 L1240,560 Z" fill="rgba(60,175,100,0.42)" stroke="rgba(18,70,38,0.65)" stroke-width="3"/>
<circle cx="1350" cy="470" r="58" fill="rgba(40,150,80,0.55)" stroke="rgba(18,70,38,0.65)" stroke-width="3"/><path d="M1295,470 L1322,423 L1378,423 L1405,470 L1378,517 L1322,517 Z" fill="rgba(80,170,115,0.6)" stroke="rgba(18,70,38,0.65)" stroke-width="3"/><circle cx="1350" cy="470" r="26" fill="rgba(150,205,170,0.9)" stroke="rgba(18,70,38,0.65)" stroke-width="3"/>
<circle cx="1350" cy="595" r="40" fill="none" stroke="rgba(18,70,38,0.65)" stroke-width="3"/>

</g>

<g transform="translate(2900,1780) scale(0.41408)">

<path d="M0,400 L300,400 L380,470 L470,520 L470,600 L380,605 L300,565 L90,600 L90,690 L0,712 Z" fill="rgba(50,160,90,0.50)" stroke="rgba(18,70,38,0.65)" stroke-width="3"/>
<path d="M0,470 L280,455 L280,540 L0,560 Z" fill="rgba(25,150,65,0.35)"/>
<path d="M470,560 Q700,690 960,640 L960,600 Q740,640 560,600 Z" fill="rgba(120,200,150,0.28)"/>
<path d="M555,165 L650,165 L672,292 L538,292 Z" fill="rgba(75,160,105,0.85)" stroke="#1d4a2c" stroke-width="3"/>
<path d="M470,400 Q452,352 498,332 Q478,300 540,290 L680,284 Q742,290 735,322 Q762,342 746,400 Q610,430 470,400 Z" fill="rgba(28,135,68,0.82)" stroke="#123d22" stroke-width="4"/>
<path d="M498,334 Q610,360 735,322 M470,398 Q610,425 746,398 M640,270 Q700,262 715,280 Q700,300 740,318" fill="none" stroke="#123d22" stroke-width="4"/>
<path d="M500,140 L700,140 Q702,160 690,162 L510,162 Q498,160 500,140 Z" fill="#b9b9b9" stroke="#333" stroke-width="3"/>
<path d="M520,62 L680,62 L690,140 L510,140 Z" fill="url(#nutg)" stroke="#333" stroke-width="3"/>
<rect x="545" y="10" width="95" height="52" fill="#4f9a68" stroke="#1d4a2c" stroke-width="3"/>
<path d="M548,22 L638,18 M548,34 L638,30 M548,46 L638,42" stroke="#1d4a2c" stroke-width="3"/>
<rect x="520" y="32" width="140" height="18" rx="9" fill="#f6f6f6" stroke="#333" stroke-width="3"/>

</g>
</g>
<g stroke="#ffffff" fill="none" stroke-width="2.2" opacity="0.95">
<path d="M60,2216.5 L4452,2216.5 M60,2220.5 L4452,2220.5"/>
<path d="M100,2729.5 L4420,2729.5 M100,2733 L4420,2733"/>
<path d="M162.7,2100 L201.5,2534.6 L3060,2277" stroke-width="2.6"/>
</g>
<g id="redlines">
<line class="rl" x1="1158" y1="1379" x2="1355.6" y2="2228.6"/>
<line class="rl" x1="773" y1="1825" x2="1006.8" y2="2120.8"/>
<line class="rl" x1="2336" y1="1682" x2="2532.3" y2="1885.9"/>
<line class="rl" x1="3377" y1="1381.4" x2="2184" y2="2306"/>
<line class="rl" x1="1691" y1="2508.5" x2="2481.7" y2="3030.6"/>
<line class="rl" x1="1056" y1="2387" x2="2470" y2="3286"/>
</g>
<g class="lbl">
<text x="279.4" y="1247.5" textLength="314.5" lengthAdjust="spacingAndGlyphs">RAISED</text>
<text x="623.3" y="1247.5" textLength="233.9" lengthAdjust="spacingAndGlyphs">DRAG</text>
<text x="886.9" y="1247.5" textLength="199.6" lengthAdjust="spacingAndGlyphs">LINK</text>
<text x="1117.1" y="1247.5" textLength="315.5" lengthAdjust="spacingAndGlyphs">HEIGHT</text>
<text x="62.0" y="1357" textLength="26.5" lengthAdjust="spacingAndGlyphs">(</text>
<text x="95.8" y="1357" textLength="51.7" lengthAdjust="spacingAndGlyphs">2</text>
<text x="176.6" y="1357" textLength="55.1" lengthAdjust="spacingAndGlyphs">3</text>
<polygon points="229.0,1363.5 244.0,1363.5 287.0,1284.5 272.0,1284.5" fill="#ff0505"/>
<text x="273.8" y="1357" textLength="50.7" lengthAdjust="spacingAndGlyphs">4</text>
<text x="324.7" y="1357" textLength="40.6" lengthAdjust="spacingAndGlyphs">”</text>
<text x="395.4" y="1357" textLength="324.1" lengthAdjust="spacingAndGlyphs">HIGHER</text>
<text x="748.9" y="1357" textLength="233.3" lengthAdjust="spacingAndGlyphs">THAN</text>
<text x="1014.0" y="1357" textLength="384.0" lengthAdjust="spacingAndGlyphs">FACTORY</text>
<text x="1401.8" y="1357" textLength="30.7" lengthAdjust="spacingAndGlyphs">)</text>
<text x="55.2" y="1687" textLength="52.3" lengthAdjust="spacingAndGlyphs">2</text>
<text x="134.6" y="1687" textLength="55.1" lengthAdjust="spacingAndGlyphs">3</text>
<polygon points="187.0,1693.5 202.0,1693.5 245.0,1614.5 230.0,1614.5" fill="#ff0505"/>
<text x="231.8" y="1687" textLength="50.7" lengthAdjust="spacingAndGlyphs">4</text>
<text x="282.7" y="1687" textLength="40.6" lengthAdjust="spacingAndGlyphs">”</text>
<text x="353.4" y="1687" textLength="315.5" lengthAdjust="spacingAndGlyphs">RAISED</text>
<text x="695.9" y="1687" textLength="227.0" lengthAdjust="spacingAndGlyphs">TRAC</text>
<text x="954.8" y="1687" textLength="167.9" lengthAdjust="spacingAndGlyphs">BAR</text>
<text x="52.7" y="1797" textLength="469.8" lengthAdjust="spacingAndGlyphs">MOUNTING</text>
<text x="551.5" y="1797" textLength="250.8" lengthAdjust="spacingAndGlyphs">POINT</text>
<text x="1312.8" y="1588.5" textLength="118.5" lengthAdjust="spacingAndGlyphs">RJ</text>
<text x="1435.3" y="1588.5" textLength="42.4" lengthAdjust="spacingAndGlyphs">-</text>
<text x="1480.9" y="1588.5" textLength="201.4" lengthAdjust="spacingAndGlyphs">9120</text>
<text x="1683.7" y="1588.5" textLength="190.1" lengthAdjust="spacingAndGlyphs">FJLF</text>
<text x="1909.8" y="1588.5" textLength="590.9" lengthAdjust="spacingAndGlyphs">ORGANICALLY</text>
<text x="1504.8" y="1697" textLength="347.3" lengthAdjust="spacingAndGlyphs">SHAPED</text>
<text x="1880.5" y="1697" textLength="224.6" lengthAdjust="spacingAndGlyphs">TRAC</text>
<text x="2137.8" y="1697" textLength="167.1" lengthAdjust="spacingAndGlyphs">BAR</text>
<text x="3117.4" y="1247.5" textLength="315.5" lengthAdjust="spacingAndGlyphs">RAISED</text>
<text x="3459.9" y="1247.5" textLength="130.3" lengthAdjust="spacingAndGlyphs">TIE</text>
<text x="3617.7" y="1247.5" textLength="174.8" lengthAdjust="spacingAndGlyphs">ROD</text>
<text x="3823.4" y="1247.5" textLength="314.8" lengthAdjust="spacingAndGlyphs">HEIGHT</text>
<text x="3119.4" y="1357.5" textLength="27.1" lengthAdjust="spacingAndGlyphs">(</text>
<text x="3153.9" y="1357.5" textLength="49.4" lengthAdjust="spacingAndGlyphs">2</text>
<text x="3232.6" y="1357.5" textLength="55.1" lengthAdjust="spacingAndGlyphs">3</text>
<polygon points="3285.0,1364.0 3300.0,1364.0 3343.0,1285.0 3328.0,1285.0" fill="#ff0505"/>
<text x="3329.8" y="1357.5" textLength="50.7" lengthAdjust="spacingAndGlyphs">4</text>
<text x="3380.7" y="1357.5" textLength="40.6" lengthAdjust="spacingAndGlyphs">”</text>
<text x="3449.4" y="1357.5" textLength="324.1" lengthAdjust="spacingAndGlyphs">HIGHER</text>
<text x="3800.9" y="1357.5" textLength="234.9" lengthAdjust="spacingAndGlyphs">THAN</text>
<text x="4065.5" y="1357.5" textLength="387.4" lengthAdjust="spacingAndGlyphs">FACTORY</text>
<text x="2490.5" y="3063" textLength="386.4" lengthAdjust="spacingAndGlyphs">FACTORY</text>
<text x="2899.9" y="3063" textLength="129.2" lengthAdjust="spacingAndGlyphs">TIE</text>
<text x="3058.3" y="3063" textLength="173.6" lengthAdjust="spacingAndGlyphs">ROD</text>
<text x="3261.8" y="3063" textLength="316.4" lengthAdjust="spacingAndGlyphs">HEIGHT</text>
<text x="2490.5" y="3327" textLength="386.4" lengthAdjust="spacingAndGlyphs">FACTORY</text>
<text x="2900.2" y="3327" textLength="233.2" lengthAdjust="spacingAndGlyphs">DRAG</text>
<text x="3162.2" y="3327" textLength="201.2" lengthAdjust="spacingAndGlyphs">LINK</text>
<text x="3394.0" y="3327" textLength="316.2" lengthAdjust="spacingAndGlyphs">HEIGHT</text>
</g>
</svg>
</body></html>
